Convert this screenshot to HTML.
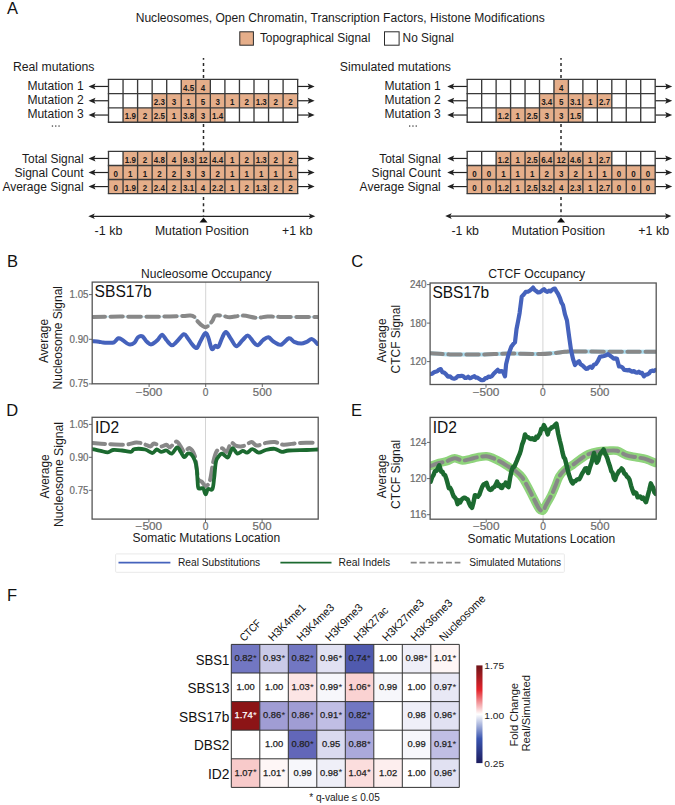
<!DOCTYPE html>
<html><head><meta charset="utf-8"><style>
html,body{margin:0;padding:0;background:#fff;}
svg{display:block;font-family:"Liberation Sans", sans-serif;}
</style></head><body>
<svg width="675" height="805" viewBox="0 0 675 805">
<rect width="675" height="805" fill="#fff"/>
<text x="7" y="13.9" font-size="16.5" fill="#111" text-anchor="start">A</text>
<text x="7" y="266.9" font-size="16.5" fill="#111" text-anchor="start">B</text>
<text x="351.3" y="266.9" font-size="16.5" fill="#111" text-anchor="start">C</text>
<text x="6.3" y="416" font-size="16.5" fill="#111" text-anchor="start">D</text>
<text x="351" y="416" font-size="16.5" fill="#111" text-anchor="start">E</text>
<text x="7" y="600.9" font-size="16.5" fill="#111" text-anchor="start">F</text>
<text x="135.7" y="22.2" font-size="12.5" fill="#1a1a1a" text-anchor="start" textLength="409" lengthAdjust="spacingAndGlyphs">Nucleosomes, Open Chromatin, Transcription Factors, Histone Modifications</text>
<rect x="239.8" y="31.8" width="13.6" height="13.4" fill="#E5AE8A" stroke="#2a2a2a" stroke-width="1"/>
<text x="259.9" y="41.6" font-size="12" fill="#1a1a1a" text-anchor="start" textLength="110.4" lengthAdjust="spacingAndGlyphs">Topographical Signal</text>
<rect x="384.5" y="31.8" width="14.6" height="13.4" fill="#fff" stroke="#2a2a2a" stroke-width="1"/>
<text x="402.6" y="41.6" font-size="12" fill="#1a1a1a" text-anchor="start" textLength="51.4" lengthAdjust="spacingAndGlyphs">No Signal</text>
<text x="12.9" y="71.1" font-size="12" fill="#1a1a1a" text-anchor="start" textLength="81.6" lengthAdjust="spacingAndGlyphs">Real mutations</text>
<text x="83.6" y="89.5" font-size="12" fill="#1a1a1a" text-anchor="end" textLength="56.2" lengthAdjust="spacingAndGlyphs">Mutation 1</text>
<text x="83.6" y="103.8" font-size="12" fill="#1a1a1a" text-anchor="end" textLength="56.2" lengthAdjust="spacingAndGlyphs">Mutation 2</text>
<text x="83.6" y="118.1" font-size="12" fill="#1a1a1a" text-anchor="end" textLength="56.2" lengthAdjust="spacingAndGlyphs">Mutation 3</text>
<line x1="108.5" y1="86.45" x2="92.5" y2="86.45" stroke="#222" stroke-width="1.2"/>
<polygon points="88.5,86.45 95.5,83.45 94.1,86.45 95.5,89.45" fill="#222"/>
<line x1="297.65" y1="86.45" x2="310.65" y2="86.45" stroke="#222" stroke-width="1.2"/>
<polygon points="314.65,86.45 307.65,83.45 309.05,86.45 307.65,89.45" fill="#222"/>
<line x1="108.5" y1="100.75" x2="92.5" y2="100.75" stroke="#222" stroke-width="1.2"/>
<polygon points="88.5,100.75 95.5,97.75 94.1,100.75 95.5,103.75" fill="#222"/>
<line x1="297.65" y1="100.75" x2="310.65" y2="100.75" stroke="#222" stroke-width="1.2"/>
<polygon points="314.65,100.75 307.65,97.75 309.05,100.75 307.65,103.75" fill="#222"/>
<line x1="108.5" y1="115.05" x2="92.5" y2="115.05" stroke="#222" stroke-width="1.2"/>
<polygon points="88.5,115.05 95.5,112.05 94.1,115.05 95.5,118.05" fill="#222"/>
<line x1="297.65" y1="115.05" x2="310.65" y2="115.05" stroke="#222" stroke-width="1.2"/>
<polygon points="314.65,115.05 307.65,112.05 309.05,115.05 307.65,118.05" fill="#222"/>
<line x1="203.5" y1="58" x2="203.5" y2="216" stroke="#2a2a2a" stroke-width="1.5" stroke-dasharray="3.0 3.1" stroke-dashoffset="1.2"/>
<rect x="108.5" y="79.3" width="14.55" height="14.3" fill="#fff" stroke="none" stroke-width="1"/>
<rect x="123.05" y="79.3" width="14.55" height="14.3" fill="#fff" stroke="none" stroke-width="1"/>
<rect x="137.6" y="79.3" width="14.55" height="14.3" fill="#fff" stroke="none" stroke-width="1"/>
<rect x="152.15" y="79.3" width="14.55" height="14.3" fill="#fff" stroke="none" stroke-width="1"/>
<rect x="166.7" y="79.3" width="14.55" height="14.3" fill="#fff" stroke="none" stroke-width="1"/>
<rect x="181.25" y="79.3" width="14.55" height="14.3" fill="#E5AE8A" stroke="none" stroke-width="1"/>
<rect x="195.8" y="79.3" width="14.55" height="14.3" fill="#E5AE8A" stroke="none" stroke-width="1"/>
<rect x="210.35" y="79.3" width="14.55" height="14.3" fill="#fff" stroke="none" stroke-width="1"/>
<rect x="224.9" y="79.3" width="14.55" height="14.3" fill="#fff" stroke="none" stroke-width="1"/>
<rect x="239.45" y="79.3" width="14.55" height="14.3" fill="#fff" stroke="none" stroke-width="1"/>
<rect x="254" y="79.3" width="14.55" height="14.3" fill="#fff" stroke="none" stroke-width="1"/>
<rect x="268.55" y="79.3" width="14.55" height="14.3" fill="#fff" stroke="none" stroke-width="1"/>
<rect x="283.1" y="79.3" width="14.55" height="14.3" fill="#fff" stroke="none" stroke-width="1"/>
<rect x="108.5" y="93.6" width="14.55" height="14.3" fill="#fff" stroke="none" stroke-width="1"/>
<rect x="123.05" y="93.6" width="14.55" height="14.3" fill="#fff" stroke="none" stroke-width="1"/>
<rect x="137.6" y="93.6" width="14.55" height="14.3" fill="#fff" stroke="none" stroke-width="1"/>
<rect x="152.15" y="93.6" width="14.55" height="14.3" fill="#E5AE8A" stroke="none" stroke-width="1"/>
<rect x="166.7" y="93.6" width="14.55" height="14.3" fill="#E5AE8A" stroke="none" stroke-width="1"/>
<rect x="181.25" y="93.6" width="14.55" height="14.3" fill="#E5AE8A" stroke="none" stroke-width="1"/>
<rect x="195.8" y="93.6" width="14.55" height="14.3" fill="#E5AE8A" stroke="none" stroke-width="1"/>
<rect x="210.35" y="93.6" width="14.55" height="14.3" fill="#E5AE8A" stroke="none" stroke-width="1"/>
<rect x="224.9" y="93.6" width="14.55" height="14.3" fill="#E5AE8A" stroke="none" stroke-width="1"/>
<rect x="239.45" y="93.6" width="14.55" height="14.3" fill="#E5AE8A" stroke="none" stroke-width="1"/>
<rect x="254" y="93.6" width="14.55" height="14.3" fill="#E5AE8A" stroke="none" stroke-width="1"/>
<rect x="268.55" y="93.6" width="14.55" height="14.3" fill="#E5AE8A" stroke="none" stroke-width="1"/>
<rect x="283.1" y="93.6" width="14.55" height="14.3" fill="#E5AE8A" stroke="none" stroke-width="1"/>
<rect x="108.5" y="107.9" width="14.55" height="14.3" fill="#fff" stroke="none" stroke-width="1"/>
<rect x="123.05" y="107.9" width="14.55" height="14.3" fill="#E5AE8A" stroke="none" stroke-width="1"/>
<rect x="137.6" y="107.9" width="14.55" height="14.3" fill="#E5AE8A" stroke="none" stroke-width="1"/>
<rect x="152.15" y="107.9" width="14.55" height="14.3" fill="#E5AE8A" stroke="none" stroke-width="1"/>
<rect x="166.7" y="107.9" width="14.55" height="14.3" fill="#E5AE8A" stroke="none" stroke-width="1"/>
<rect x="181.25" y="107.9" width="14.55" height="14.3" fill="#E5AE8A" stroke="none" stroke-width="1"/>
<rect x="195.8" y="107.9" width="14.55" height="14.3" fill="#E5AE8A" stroke="none" stroke-width="1"/>
<rect x="210.35" y="107.9" width="14.55" height="14.3" fill="#E5AE8A" stroke="none" stroke-width="1"/>
<rect x="224.9" y="107.9" width="14.55" height="14.3" fill="#fff" stroke="none" stroke-width="1"/>
<rect x="239.45" y="107.9" width="14.55" height="14.3" fill="#fff" stroke="none" stroke-width="1"/>
<rect x="254" y="107.9" width="14.55" height="14.3" fill="#fff" stroke="none" stroke-width="1"/>
<rect x="268.55" y="107.9" width="14.55" height="14.3" fill="#fff" stroke="none" stroke-width="1"/>
<rect x="283.1" y="107.9" width="14.55" height="14.3" fill="#fff" stroke="none" stroke-width="1"/>
<line x1="107.8" y1="79.3" x2="298.35" y2="79.3" stroke="#3a3a3a" stroke-width="1.35"/>
<line x1="107.8" y1="93.6" x2="298.35" y2="93.6" stroke="#3a3a3a" stroke-width="1.35"/>
<line x1="107.8" y1="107.9" x2="298.35" y2="107.9" stroke="#3a3a3a" stroke-width="1.35"/>
<line x1="107.8" y1="122.2" x2="298.35" y2="122.2" stroke="#3a3a3a" stroke-width="1.35"/>
<line x1="108.5" y1="79.3" x2="108.5" y2="122.2" stroke="#3a3a3a" stroke-width="1.35"/>
<line x1="123.05" y1="79.3" x2="123.05" y2="122.2" stroke="#3a3a3a" stroke-width="1.35"/>
<line x1="137.6" y1="79.3" x2="137.6" y2="122.2" stroke="#3a3a3a" stroke-width="1.35"/>
<line x1="152.15" y1="79.3" x2="152.15" y2="122.2" stroke="#3a3a3a" stroke-width="1.35"/>
<line x1="166.7" y1="79.3" x2="166.7" y2="122.2" stroke="#3a3a3a" stroke-width="1.35"/>
<line x1="181.25" y1="79.3" x2="181.25" y2="122.2" stroke="#3a3a3a" stroke-width="1.35"/>
<line x1="195.8" y1="79.3" x2="195.8" y2="122.2" stroke="#3a3a3a" stroke-width="1.35"/>
<line x1="210.35" y1="79.3" x2="210.35" y2="122.2" stroke="#3a3a3a" stroke-width="1.35"/>
<line x1="224.9" y1="79.3" x2="224.9" y2="122.2" stroke="#3a3a3a" stroke-width="1.35"/>
<line x1="239.45" y1="79.3" x2="239.45" y2="122.2" stroke="#3a3a3a" stroke-width="1.35"/>
<line x1="254" y1="79.3" x2="254" y2="122.2" stroke="#3a3a3a" stroke-width="1.35"/>
<line x1="268.55" y1="79.3" x2="268.55" y2="122.2" stroke="#3a3a3a" stroke-width="1.35"/>
<line x1="283.1" y1="79.3" x2="283.1" y2="122.2" stroke="#3a3a3a" stroke-width="1.35"/>
<line x1="297.65" y1="79.3" x2="297.65" y2="122.2" stroke="#3a3a3a" stroke-width="1.35"/>
<text x="188.53" y="90.65" font-size="8.8" fill="#1a1a1a" text-anchor="middle" font-weight="bold" textLength="11.12" lengthAdjust="spacingAndGlyphs">4.5</text>
<text x="203.08" y="90.65" font-size="8.8" fill="#1a1a1a" text-anchor="middle" font-weight="bold" textLength="4.45" lengthAdjust="spacingAndGlyphs">4</text>
<text x="159.43" y="104.95" font-size="8.8" fill="#1a1a1a" text-anchor="middle" font-weight="bold" textLength="11.12" lengthAdjust="spacingAndGlyphs">2.3</text>
<text x="173.97" y="104.95" font-size="8.8" fill="#1a1a1a" text-anchor="middle" font-weight="bold" textLength="4.45" lengthAdjust="spacingAndGlyphs">3</text>
<text x="188.53" y="104.95" font-size="8.8" fill="#1a1a1a" text-anchor="middle" font-weight="bold" textLength="4.45" lengthAdjust="spacingAndGlyphs">1</text>
<text x="203.08" y="104.95" font-size="8.8" fill="#1a1a1a" text-anchor="middle" font-weight="bold" textLength="4.45" lengthAdjust="spacingAndGlyphs">5</text>
<text x="217.63" y="104.95" font-size="8.8" fill="#1a1a1a" text-anchor="middle" font-weight="bold" textLength="4.45" lengthAdjust="spacingAndGlyphs">3</text>
<text x="232.18" y="104.95" font-size="8.8" fill="#1a1a1a" text-anchor="middle" font-weight="bold" textLength="4.45" lengthAdjust="spacingAndGlyphs">1</text>
<text x="246.73" y="104.95" font-size="8.8" fill="#1a1a1a" text-anchor="middle" font-weight="bold" textLength="4.45" lengthAdjust="spacingAndGlyphs">2</text>
<text x="261.27" y="104.95" font-size="8.8" fill="#1a1a1a" text-anchor="middle" font-weight="bold" textLength="11.12" lengthAdjust="spacingAndGlyphs">1.3</text>
<text x="275.82" y="104.95" font-size="8.8" fill="#1a1a1a" text-anchor="middle" font-weight="bold" textLength="4.45" lengthAdjust="spacingAndGlyphs">2</text>
<text x="290.38" y="104.95" font-size="8.8" fill="#1a1a1a" text-anchor="middle" font-weight="bold" textLength="4.45" lengthAdjust="spacingAndGlyphs">2</text>
<text x="130.32" y="119.25" font-size="8.8" fill="#1a1a1a" text-anchor="middle" font-weight="bold" textLength="11.12" lengthAdjust="spacingAndGlyphs">1.9</text>
<text x="144.88" y="119.25" font-size="8.8" fill="#1a1a1a" text-anchor="middle" font-weight="bold" textLength="4.45" lengthAdjust="spacingAndGlyphs">2</text>
<text x="159.43" y="119.25" font-size="8.8" fill="#1a1a1a" text-anchor="middle" font-weight="bold" textLength="11.12" lengthAdjust="spacingAndGlyphs">2.5</text>
<text x="173.97" y="119.25" font-size="8.8" fill="#1a1a1a" text-anchor="middle" font-weight="bold" textLength="4.45" lengthAdjust="spacingAndGlyphs">1</text>
<text x="188.53" y="119.25" font-size="8.8" fill="#1a1a1a" text-anchor="middle" font-weight="bold" textLength="11.12" lengthAdjust="spacingAndGlyphs">3.8</text>
<text x="203.08" y="119.25" font-size="8.8" fill="#1a1a1a" text-anchor="middle" font-weight="bold" textLength="4.45" lengthAdjust="spacingAndGlyphs">3</text>
<text x="217.63" y="119.25" font-size="8.8" fill="#1a1a1a" text-anchor="middle" font-weight="bold" textLength="11.12" lengthAdjust="spacingAndGlyphs">1.4</text>
<rect x="51.8" y="125.4" width="1.3" height="1.3" fill="#444" stroke="none" stroke-width="1"/>
<rect x="55.1" y="125.4" width="1.3" height="1.3" fill="#444" stroke="none" stroke-width="1"/>
<rect x="58.4" y="125.4" width="1.3" height="1.3" fill="#444" stroke="none" stroke-width="1"/>
<text x="83.6" y="162.8" font-size="12" fill="#1a1a1a" text-anchor="end" textLength="61.5" lengthAdjust="spacingAndGlyphs">Total Signal</text>
<text x="83.6" y="176.87" font-size="12" fill="#1a1a1a" text-anchor="end" textLength="69.2" lengthAdjust="spacingAndGlyphs">Signal Count</text>
<text x="83.6" y="190.94" font-size="12" fill="#1a1a1a" text-anchor="end" textLength="81.2" lengthAdjust="spacingAndGlyphs">Average Signal</text>
<line x1="108.5" y1="158.44" x2="92.5" y2="158.44" stroke="#222" stroke-width="1.2"/>
<polygon points="88.5,158.44 95.5,155.44 94.1,158.44 95.5,161.44" fill="#222"/>
<line x1="297.65" y1="158.44" x2="310.65" y2="158.44" stroke="#222" stroke-width="1.2"/>
<polygon points="314.65,158.44 307.65,155.44 309.05,158.44 307.65,161.44" fill="#222"/>
<line x1="108.5" y1="172.5" x2="92.5" y2="172.5" stroke="#222" stroke-width="1.2"/>
<polygon points="88.5,172.5 95.5,169.5 94.1,172.5 95.5,175.5" fill="#222"/>
<line x1="297.65" y1="172.5" x2="310.65" y2="172.5" stroke="#222" stroke-width="1.2"/>
<polygon points="314.65,172.5 307.65,169.5 309.05,172.5 307.65,175.5" fill="#222"/>
<line x1="108.5" y1="186.57" x2="92.5" y2="186.57" stroke="#222" stroke-width="1.2"/>
<polygon points="88.5,186.57 95.5,183.57 94.1,186.57 95.5,189.57" fill="#222"/>
<line x1="297.65" y1="186.57" x2="310.65" y2="186.57" stroke="#222" stroke-width="1.2"/>
<polygon points="314.65,186.57 307.65,183.57 309.05,186.57 307.65,189.57" fill="#222"/>
<rect x="108.5" y="151.4" width="14.55" height="14.07" fill="#fff" stroke="none" stroke-width="1"/>
<rect x="123.05" y="151.4" width="14.55" height="14.07" fill="#E5AE8A" stroke="none" stroke-width="1"/>
<rect x="137.6" y="151.4" width="14.55" height="14.07" fill="#E5AE8A" stroke="none" stroke-width="1"/>
<rect x="152.15" y="151.4" width="14.55" height="14.07" fill="#E5AE8A" stroke="none" stroke-width="1"/>
<rect x="166.7" y="151.4" width="14.55" height="14.07" fill="#E5AE8A" stroke="none" stroke-width="1"/>
<rect x="181.25" y="151.4" width="14.55" height="14.07" fill="#E5AE8A" stroke="none" stroke-width="1"/>
<rect x="195.8" y="151.4" width="14.55" height="14.07" fill="#E5AE8A" stroke="none" stroke-width="1"/>
<rect x="210.35" y="151.4" width="14.55" height="14.07" fill="#E5AE8A" stroke="none" stroke-width="1"/>
<rect x="224.9" y="151.4" width="14.55" height="14.07" fill="#E5AE8A" stroke="none" stroke-width="1"/>
<rect x="239.45" y="151.4" width="14.55" height="14.07" fill="#E5AE8A" stroke="none" stroke-width="1"/>
<rect x="254" y="151.4" width="14.55" height="14.07" fill="#E5AE8A" stroke="none" stroke-width="1"/>
<rect x="268.55" y="151.4" width="14.55" height="14.07" fill="#E5AE8A" stroke="none" stroke-width="1"/>
<rect x="283.1" y="151.4" width="14.55" height="14.07" fill="#E5AE8A" stroke="none" stroke-width="1"/>
<rect x="108.5" y="165.47" width="14.55" height="14.07" fill="#E5AE8A" stroke="none" stroke-width="1"/>
<rect x="123.05" y="165.47" width="14.55" height="14.07" fill="#E5AE8A" stroke="none" stroke-width="1"/>
<rect x="137.6" y="165.47" width="14.55" height="14.07" fill="#E5AE8A" stroke="none" stroke-width="1"/>
<rect x="152.15" y="165.47" width="14.55" height="14.07" fill="#E5AE8A" stroke="none" stroke-width="1"/>
<rect x="166.7" y="165.47" width="14.55" height="14.07" fill="#E5AE8A" stroke="none" stroke-width="1"/>
<rect x="181.25" y="165.47" width="14.55" height="14.07" fill="#E5AE8A" stroke="none" stroke-width="1"/>
<rect x="195.8" y="165.47" width="14.55" height="14.07" fill="#E5AE8A" stroke="none" stroke-width="1"/>
<rect x="210.35" y="165.47" width="14.55" height="14.07" fill="#E5AE8A" stroke="none" stroke-width="1"/>
<rect x="224.9" y="165.47" width="14.55" height="14.07" fill="#E5AE8A" stroke="none" stroke-width="1"/>
<rect x="239.45" y="165.47" width="14.55" height="14.07" fill="#E5AE8A" stroke="none" stroke-width="1"/>
<rect x="254" y="165.47" width="14.55" height="14.07" fill="#E5AE8A" stroke="none" stroke-width="1"/>
<rect x="268.55" y="165.47" width="14.55" height="14.07" fill="#E5AE8A" stroke="none" stroke-width="1"/>
<rect x="283.1" y="165.47" width="14.55" height="14.07" fill="#E5AE8A" stroke="none" stroke-width="1"/>
<rect x="108.5" y="179.54" width="14.55" height="14.07" fill="#E5AE8A" stroke="none" stroke-width="1"/>
<rect x="123.05" y="179.54" width="14.55" height="14.07" fill="#E5AE8A" stroke="none" stroke-width="1"/>
<rect x="137.6" y="179.54" width="14.55" height="14.07" fill="#E5AE8A" stroke="none" stroke-width="1"/>
<rect x="152.15" y="179.54" width="14.55" height="14.07" fill="#E5AE8A" stroke="none" stroke-width="1"/>
<rect x="166.7" y="179.54" width="14.55" height="14.07" fill="#E5AE8A" stroke="none" stroke-width="1"/>
<rect x="181.25" y="179.54" width="14.55" height="14.07" fill="#E5AE8A" stroke="none" stroke-width="1"/>
<rect x="195.8" y="179.54" width="14.55" height="14.07" fill="#E5AE8A" stroke="none" stroke-width="1"/>
<rect x="210.35" y="179.54" width="14.55" height="14.07" fill="#E5AE8A" stroke="none" stroke-width="1"/>
<rect x="224.9" y="179.54" width="14.55" height="14.07" fill="#E5AE8A" stroke="none" stroke-width="1"/>
<rect x="239.45" y="179.54" width="14.55" height="14.07" fill="#E5AE8A" stroke="none" stroke-width="1"/>
<rect x="254" y="179.54" width="14.55" height="14.07" fill="#E5AE8A" stroke="none" stroke-width="1"/>
<rect x="268.55" y="179.54" width="14.55" height="14.07" fill="#E5AE8A" stroke="none" stroke-width="1"/>
<rect x="283.1" y="179.54" width="14.55" height="14.07" fill="#E5AE8A" stroke="none" stroke-width="1"/>
<line x1="107.8" y1="151.4" x2="298.35" y2="151.4" stroke="#3a3a3a" stroke-width="1.35"/>
<line x1="107.8" y1="165.47" x2="298.35" y2="165.47" stroke="#3a3a3a" stroke-width="1.35"/>
<line x1="107.8" y1="179.54" x2="298.35" y2="179.54" stroke="#3a3a3a" stroke-width="1.35"/>
<line x1="107.8" y1="193.61" x2="298.35" y2="193.61" stroke="#3a3a3a" stroke-width="1.35"/>
<line x1="108.5" y1="151.4" x2="108.5" y2="193.61" stroke="#3a3a3a" stroke-width="1.35"/>
<line x1="123.05" y1="151.4" x2="123.05" y2="193.61" stroke="#3a3a3a" stroke-width="1.35"/>
<line x1="137.6" y1="151.4" x2="137.6" y2="193.61" stroke="#3a3a3a" stroke-width="1.35"/>
<line x1="152.15" y1="151.4" x2="152.15" y2="193.61" stroke="#3a3a3a" stroke-width="1.35"/>
<line x1="166.7" y1="151.4" x2="166.7" y2="193.61" stroke="#3a3a3a" stroke-width="1.35"/>
<line x1="181.25" y1="151.4" x2="181.25" y2="193.61" stroke="#3a3a3a" stroke-width="1.35"/>
<line x1="195.8" y1="151.4" x2="195.8" y2="193.61" stroke="#3a3a3a" stroke-width="1.35"/>
<line x1="210.35" y1="151.4" x2="210.35" y2="193.61" stroke="#3a3a3a" stroke-width="1.35"/>
<line x1="224.9" y1="151.4" x2="224.9" y2="193.61" stroke="#3a3a3a" stroke-width="1.35"/>
<line x1="239.45" y1="151.4" x2="239.45" y2="193.61" stroke="#3a3a3a" stroke-width="1.35"/>
<line x1="254" y1="151.4" x2="254" y2="193.61" stroke="#3a3a3a" stroke-width="1.35"/>
<line x1="268.55" y1="151.4" x2="268.55" y2="193.61" stroke="#3a3a3a" stroke-width="1.35"/>
<line x1="283.1" y1="151.4" x2="283.1" y2="193.61" stroke="#3a3a3a" stroke-width="1.35"/>
<line x1="297.65" y1="151.4" x2="297.65" y2="193.61" stroke="#3a3a3a" stroke-width="1.35"/>
<text x="130.32" y="162.75" font-size="8.8" fill="#1a1a1a" text-anchor="middle" font-weight="bold" textLength="11.12" lengthAdjust="spacingAndGlyphs">1.9</text>
<text x="144.88" y="162.75" font-size="8.8" fill="#1a1a1a" text-anchor="middle" font-weight="bold" textLength="4.45" lengthAdjust="spacingAndGlyphs">2</text>
<text x="159.43" y="162.75" font-size="8.8" fill="#1a1a1a" text-anchor="middle" font-weight="bold" textLength="11.12" lengthAdjust="spacingAndGlyphs">4.8</text>
<text x="173.97" y="162.75" font-size="8.8" fill="#1a1a1a" text-anchor="middle" font-weight="bold" textLength="4.45" lengthAdjust="spacingAndGlyphs">4</text>
<text x="188.53" y="162.75" font-size="8.8" fill="#1a1a1a" text-anchor="middle" font-weight="bold" textLength="11.12" lengthAdjust="spacingAndGlyphs">9.3</text>
<text x="203.08" y="162.75" font-size="8.8" fill="#1a1a1a" text-anchor="middle" font-weight="bold" textLength="8.9" lengthAdjust="spacingAndGlyphs">12</text>
<text x="217.63" y="162.75" font-size="8.8" fill="#1a1a1a" text-anchor="middle" font-weight="bold" textLength="11.12" lengthAdjust="spacingAndGlyphs">4.4</text>
<text x="232.18" y="162.75" font-size="8.8" fill="#1a1a1a" text-anchor="middle" font-weight="bold" textLength="4.45" lengthAdjust="spacingAndGlyphs">1</text>
<text x="246.73" y="162.75" font-size="8.8" fill="#1a1a1a" text-anchor="middle" font-weight="bold" textLength="4.45" lengthAdjust="spacingAndGlyphs">2</text>
<text x="261.27" y="162.75" font-size="8.8" fill="#1a1a1a" text-anchor="middle" font-weight="bold" textLength="11.12" lengthAdjust="spacingAndGlyphs">1.3</text>
<text x="275.82" y="162.75" font-size="8.8" fill="#1a1a1a" text-anchor="middle" font-weight="bold" textLength="4.45" lengthAdjust="spacingAndGlyphs">2</text>
<text x="290.38" y="162.75" font-size="8.8" fill="#1a1a1a" text-anchor="middle" font-weight="bold" textLength="4.45" lengthAdjust="spacingAndGlyphs">2</text>
<text x="115.78" y="176.82" font-size="8.8" fill="#1a1a1a" text-anchor="middle" font-weight="bold" textLength="4.45" lengthAdjust="spacingAndGlyphs">0</text>
<text x="130.32" y="176.82" font-size="8.8" fill="#1a1a1a" text-anchor="middle" font-weight="bold" textLength="4.45" lengthAdjust="spacingAndGlyphs">1</text>
<text x="144.88" y="176.82" font-size="8.8" fill="#1a1a1a" text-anchor="middle" font-weight="bold" textLength="4.45" lengthAdjust="spacingAndGlyphs">1</text>
<text x="159.43" y="176.82" font-size="8.8" fill="#1a1a1a" text-anchor="middle" font-weight="bold" textLength="4.45" lengthAdjust="spacingAndGlyphs">2</text>
<text x="173.97" y="176.82" font-size="8.8" fill="#1a1a1a" text-anchor="middle" font-weight="bold" textLength="4.45" lengthAdjust="spacingAndGlyphs">2</text>
<text x="188.53" y="176.82" font-size="8.8" fill="#1a1a1a" text-anchor="middle" font-weight="bold" textLength="4.45" lengthAdjust="spacingAndGlyphs">3</text>
<text x="203.08" y="176.82" font-size="8.8" fill="#1a1a1a" text-anchor="middle" font-weight="bold" textLength="4.45" lengthAdjust="spacingAndGlyphs">3</text>
<text x="217.63" y="176.82" font-size="8.8" fill="#1a1a1a" text-anchor="middle" font-weight="bold" textLength="4.45" lengthAdjust="spacingAndGlyphs">2</text>
<text x="232.18" y="176.82" font-size="8.8" fill="#1a1a1a" text-anchor="middle" font-weight="bold" textLength="4.45" lengthAdjust="spacingAndGlyphs">1</text>
<text x="246.73" y="176.82" font-size="8.8" fill="#1a1a1a" text-anchor="middle" font-weight="bold" textLength="4.45" lengthAdjust="spacingAndGlyphs">1</text>
<text x="261.27" y="176.82" font-size="8.8" fill="#1a1a1a" text-anchor="middle" font-weight="bold" textLength="4.45" lengthAdjust="spacingAndGlyphs">1</text>
<text x="275.82" y="176.82" font-size="8.8" fill="#1a1a1a" text-anchor="middle" font-weight="bold" textLength="4.45" lengthAdjust="spacingAndGlyphs">1</text>
<text x="290.38" y="176.82" font-size="8.8" fill="#1a1a1a" text-anchor="middle" font-weight="bold" textLength="4.45" lengthAdjust="spacingAndGlyphs">1</text>
<text x="115.78" y="190.89" font-size="8.8" fill="#1a1a1a" text-anchor="middle" font-weight="bold" textLength="4.45" lengthAdjust="spacingAndGlyphs">0</text>
<text x="130.32" y="190.89" font-size="8.8" fill="#1a1a1a" text-anchor="middle" font-weight="bold" textLength="11.12" lengthAdjust="spacingAndGlyphs">1.9</text>
<text x="144.88" y="190.89" font-size="8.8" fill="#1a1a1a" text-anchor="middle" font-weight="bold" textLength="4.45" lengthAdjust="spacingAndGlyphs">2</text>
<text x="159.43" y="190.89" font-size="8.8" fill="#1a1a1a" text-anchor="middle" font-weight="bold" textLength="11.12" lengthAdjust="spacingAndGlyphs">2.4</text>
<text x="173.97" y="190.89" font-size="8.8" fill="#1a1a1a" text-anchor="middle" font-weight="bold" textLength="4.45" lengthAdjust="spacingAndGlyphs">2</text>
<text x="188.53" y="190.89" font-size="8.8" fill="#1a1a1a" text-anchor="middle" font-weight="bold" textLength="11.12" lengthAdjust="spacingAndGlyphs">3.1</text>
<text x="203.08" y="190.89" font-size="8.8" fill="#1a1a1a" text-anchor="middle" font-weight="bold" textLength="4.45" lengthAdjust="spacingAndGlyphs">4</text>
<text x="217.63" y="190.89" font-size="8.8" fill="#1a1a1a" text-anchor="middle" font-weight="bold" textLength="11.12" lengthAdjust="spacingAndGlyphs">2.2</text>
<text x="232.18" y="190.89" font-size="8.8" fill="#1a1a1a" text-anchor="middle" font-weight="bold" textLength="4.45" lengthAdjust="spacingAndGlyphs">1</text>
<text x="246.73" y="190.89" font-size="8.8" fill="#1a1a1a" text-anchor="middle" font-weight="bold" textLength="4.45" lengthAdjust="spacingAndGlyphs">2</text>
<text x="261.27" y="190.89" font-size="8.8" fill="#1a1a1a" text-anchor="middle" font-weight="bold" textLength="11.12" lengthAdjust="spacingAndGlyphs">1.3</text>
<text x="275.82" y="190.89" font-size="8.8" fill="#1a1a1a" text-anchor="middle" font-weight="bold" textLength="4.45" lengthAdjust="spacingAndGlyphs">2</text>
<text x="290.38" y="190.89" font-size="8.8" fill="#1a1a1a" text-anchor="middle" font-weight="bold" textLength="4.45" lengthAdjust="spacingAndGlyphs">2</text>
<line x1="92.3" y1="216.3" x2="311.3" y2="216.3" stroke="#222" stroke-width="1.2"/>
<polygon points="88.3,216.3 94.8,213.5 93.3,216.3 94.8,219.1" fill="#222"/>
<polygon points="315.3,216.3 308.8,213.5 310.3,216.3 308.8,219.1" fill="#222"/>
<polygon points="199.5,222.6 207.5,222.6 203.5,217.6" fill="#111"/>
<text x="94.5" y="235" font-size="12" fill="#1a1a1a" text-anchor="start" textLength="27.9" lengthAdjust="spacingAndGlyphs">-1 kb</text>
<text x="154.9" y="235" font-size="12" fill="#1a1a1a" text-anchor="start" textLength="94" lengthAdjust="spacingAndGlyphs">Mutation Position</text>
<text x="282.1" y="235" font-size="12" fill="#1a1a1a" text-anchor="start" textLength="30.4" lengthAdjust="spacingAndGlyphs">+1 kb</text>
<text x="339.8" y="71.1" font-size="12" fill="#1a1a1a" text-anchor="start" textLength="111.2" lengthAdjust="spacingAndGlyphs">Simulated mutations</text>
<text x="440.8" y="89.5" font-size="12" fill="#1a1a1a" text-anchor="end" textLength="56.2" lengthAdjust="spacingAndGlyphs">Mutation 1</text>
<text x="440.8" y="103.8" font-size="12" fill="#1a1a1a" text-anchor="end" textLength="56.2" lengthAdjust="spacingAndGlyphs">Mutation 2</text>
<text x="440.8" y="118.1" font-size="12" fill="#1a1a1a" text-anchor="end" textLength="56.2" lengthAdjust="spacingAndGlyphs">Mutation 3</text>
<line x1="467.2" y1="86.45" x2="451.2" y2="86.45" stroke="#222" stroke-width="1.2"/>
<polygon points="447.2,86.45 454.2,83.45 452.8,86.45 454.2,89.45" fill="#222"/>
<line x1="655.18" y1="86.45" x2="668.18" y2="86.45" stroke="#222" stroke-width="1.2"/>
<polygon points="672.18,86.45 665.18,83.45 666.58,86.45 665.18,89.45" fill="#222"/>
<line x1="467.2" y1="100.75" x2="451.2" y2="100.75" stroke="#222" stroke-width="1.2"/>
<polygon points="447.2,100.75 454.2,97.75 452.8,100.75 454.2,103.75" fill="#222"/>
<line x1="655.18" y1="100.75" x2="668.18" y2="100.75" stroke="#222" stroke-width="1.2"/>
<polygon points="672.18,100.75 665.18,97.75 666.58,100.75 665.18,103.75" fill="#222"/>
<line x1="467.2" y1="115.05" x2="451.2" y2="115.05" stroke="#222" stroke-width="1.2"/>
<polygon points="447.2,115.05 454.2,112.05 452.8,115.05 454.2,118.05" fill="#222"/>
<line x1="655.18" y1="115.05" x2="668.18" y2="115.05" stroke="#222" stroke-width="1.2"/>
<polygon points="672.18,115.05 665.18,112.05 666.58,115.05 665.18,118.05" fill="#222"/>
<line x1="561" y1="58" x2="561" y2="216" stroke="#2a2a2a" stroke-width="1.5" stroke-dasharray="3.0 3.1" stroke-dashoffset="1.2"/>
<rect x="467.2" y="79.3" width="14.46" height="14.3" fill="#fff" stroke="none" stroke-width="1"/>
<rect x="481.66" y="79.3" width="14.46" height="14.3" fill="#fff" stroke="none" stroke-width="1"/>
<rect x="496.12" y="79.3" width="14.46" height="14.3" fill="#fff" stroke="none" stroke-width="1"/>
<rect x="510.58" y="79.3" width="14.46" height="14.3" fill="#fff" stroke="none" stroke-width="1"/>
<rect x="525.04" y="79.3" width="14.46" height="14.3" fill="#fff" stroke="none" stroke-width="1"/>
<rect x="539.5" y="79.3" width="14.46" height="14.3" fill="#fff" stroke="none" stroke-width="1"/>
<rect x="553.96" y="79.3" width="14.46" height="14.3" fill="#E5AE8A" stroke="none" stroke-width="1"/>
<rect x="568.42" y="79.3" width="14.46" height="14.3" fill="#fff" stroke="none" stroke-width="1"/>
<rect x="582.88" y="79.3" width="14.46" height="14.3" fill="#fff" stroke="none" stroke-width="1"/>
<rect x="597.34" y="79.3" width="14.46" height="14.3" fill="#fff" stroke="none" stroke-width="1"/>
<rect x="611.8" y="79.3" width="14.46" height="14.3" fill="#fff" stroke="none" stroke-width="1"/>
<rect x="626.26" y="79.3" width="14.46" height="14.3" fill="#fff" stroke="none" stroke-width="1"/>
<rect x="640.72" y="79.3" width="14.46" height="14.3" fill="#fff" stroke="none" stroke-width="1"/>
<rect x="467.2" y="93.6" width="14.46" height="14.3" fill="#fff" stroke="none" stroke-width="1"/>
<rect x="481.66" y="93.6" width="14.46" height="14.3" fill="#fff" stroke="none" stroke-width="1"/>
<rect x="496.12" y="93.6" width="14.46" height="14.3" fill="#fff" stroke="none" stroke-width="1"/>
<rect x="510.58" y="93.6" width="14.46" height="14.3" fill="#fff" stroke="none" stroke-width="1"/>
<rect x="525.04" y="93.6" width="14.46" height="14.3" fill="#fff" stroke="none" stroke-width="1"/>
<rect x="539.5" y="93.6" width="14.46" height="14.3" fill="#E5AE8A" stroke="none" stroke-width="1"/>
<rect x="553.96" y="93.6" width="14.46" height="14.3" fill="#E5AE8A" stroke="none" stroke-width="1"/>
<rect x="568.42" y="93.6" width="14.46" height="14.3" fill="#E5AE8A" stroke="none" stroke-width="1"/>
<rect x="582.88" y="93.6" width="14.46" height="14.3" fill="#E5AE8A" stroke="none" stroke-width="1"/>
<rect x="597.34" y="93.6" width="14.46" height="14.3" fill="#E5AE8A" stroke="none" stroke-width="1"/>
<rect x="611.8" y="93.6" width="14.46" height="14.3" fill="#fff" stroke="none" stroke-width="1"/>
<rect x="626.26" y="93.6" width="14.46" height="14.3" fill="#fff" stroke="none" stroke-width="1"/>
<rect x="640.72" y="93.6" width="14.46" height="14.3" fill="#fff" stroke="none" stroke-width="1"/>
<rect x="467.2" y="107.9" width="14.46" height="14.3" fill="#fff" stroke="none" stroke-width="1"/>
<rect x="481.66" y="107.9" width="14.46" height="14.3" fill="#fff" stroke="none" stroke-width="1"/>
<rect x="496.12" y="107.9" width="14.46" height="14.3" fill="#E5AE8A" stroke="none" stroke-width="1"/>
<rect x="510.58" y="107.9" width="14.46" height="14.3" fill="#E5AE8A" stroke="none" stroke-width="1"/>
<rect x="525.04" y="107.9" width="14.46" height="14.3" fill="#E5AE8A" stroke="none" stroke-width="1"/>
<rect x="539.5" y="107.9" width="14.46" height="14.3" fill="#E5AE8A" stroke="none" stroke-width="1"/>
<rect x="553.96" y="107.9" width="14.46" height="14.3" fill="#E5AE8A" stroke="none" stroke-width="1"/>
<rect x="568.42" y="107.9" width="14.46" height="14.3" fill="#E5AE8A" stroke="none" stroke-width="1"/>
<rect x="582.88" y="107.9" width="14.46" height="14.3" fill="#fff" stroke="none" stroke-width="1"/>
<rect x="597.34" y="107.9" width="14.46" height="14.3" fill="#fff" stroke="none" stroke-width="1"/>
<rect x="611.8" y="107.9" width="14.46" height="14.3" fill="#fff" stroke="none" stroke-width="1"/>
<rect x="626.26" y="107.9" width="14.46" height="14.3" fill="#fff" stroke="none" stroke-width="1"/>
<rect x="640.72" y="107.9" width="14.46" height="14.3" fill="#fff" stroke="none" stroke-width="1"/>
<line x1="466.5" y1="79.3" x2="655.88" y2="79.3" stroke="#3a3a3a" stroke-width="1.35"/>
<line x1="466.5" y1="93.6" x2="655.88" y2="93.6" stroke="#3a3a3a" stroke-width="1.35"/>
<line x1="466.5" y1="107.9" x2="655.88" y2="107.9" stroke="#3a3a3a" stroke-width="1.35"/>
<line x1="466.5" y1="122.2" x2="655.88" y2="122.2" stroke="#3a3a3a" stroke-width="1.35"/>
<line x1="467.2" y1="79.3" x2="467.2" y2="122.2" stroke="#3a3a3a" stroke-width="1.35"/>
<line x1="481.66" y1="79.3" x2="481.66" y2="122.2" stroke="#3a3a3a" stroke-width="1.35"/>
<line x1="496.12" y1="79.3" x2="496.12" y2="122.2" stroke="#3a3a3a" stroke-width="1.35"/>
<line x1="510.58" y1="79.3" x2="510.58" y2="122.2" stroke="#3a3a3a" stroke-width="1.35"/>
<line x1="525.04" y1="79.3" x2="525.04" y2="122.2" stroke="#3a3a3a" stroke-width="1.35"/>
<line x1="539.5" y1="79.3" x2="539.5" y2="122.2" stroke="#3a3a3a" stroke-width="1.35"/>
<line x1="553.96" y1="79.3" x2="553.96" y2="122.2" stroke="#3a3a3a" stroke-width="1.35"/>
<line x1="568.42" y1="79.3" x2="568.42" y2="122.2" stroke="#3a3a3a" stroke-width="1.35"/>
<line x1="582.88" y1="79.3" x2="582.88" y2="122.2" stroke="#3a3a3a" stroke-width="1.35"/>
<line x1="597.34" y1="79.3" x2="597.34" y2="122.2" stroke="#3a3a3a" stroke-width="1.35"/>
<line x1="611.8" y1="79.3" x2="611.8" y2="122.2" stroke="#3a3a3a" stroke-width="1.35"/>
<line x1="626.26" y1="79.3" x2="626.26" y2="122.2" stroke="#3a3a3a" stroke-width="1.35"/>
<line x1="640.72" y1="79.3" x2="640.72" y2="122.2" stroke="#3a3a3a" stroke-width="1.35"/>
<line x1="655.18" y1="79.3" x2="655.18" y2="122.2" stroke="#3a3a3a" stroke-width="1.35"/>
<text x="561.19" y="90.65" font-size="8.8" fill="#1a1a1a" text-anchor="middle" font-weight="bold" textLength="4.45" lengthAdjust="spacingAndGlyphs">4</text>
<text x="546.73" y="104.95" font-size="8.8" fill="#1a1a1a" text-anchor="middle" font-weight="bold" textLength="11.12" lengthAdjust="spacingAndGlyphs">3.4</text>
<text x="561.19" y="104.95" font-size="8.8" fill="#1a1a1a" text-anchor="middle" font-weight="bold" textLength="4.45" lengthAdjust="spacingAndGlyphs">5</text>
<text x="575.65" y="104.95" font-size="8.8" fill="#1a1a1a" text-anchor="middle" font-weight="bold" textLength="11.12" lengthAdjust="spacingAndGlyphs">3.1</text>
<text x="590.11" y="104.95" font-size="8.8" fill="#1a1a1a" text-anchor="middle" font-weight="bold" textLength="4.45" lengthAdjust="spacingAndGlyphs">1</text>
<text x="604.57" y="104.95" font-size="8.8" fill="#1a1a1a" text-anchor="middle" font-weight="bold" textLength="11.12" lengthAdjust="spacingAndGlyphs">2.7</text>
<text x="503.35" y="119.25" font-size="8.8" fill="#1a1a1a" text-anchor="middle" font-weight="bold" textLength="11.12" lengthAdjust="spacingAndGlyphs">1.2</text>
<text x="517.81" y="119.25" font-size="8.8" fill="#1a1a1a" text-anchor="middle" font-weight="bold" textLength="4.45" lengthAdjust="spacingAndGlyphs">1</text>
<text x="532.27" y="119.25" font-size="8.8" fill="#1a1a1a" text-anchor="middle" font-weight="bold" textLength="11.12" lengthAdjust="spacingAndGlyphs">2.5</text>
<text x="546.73" y="119.25" font-size="8.8" fill="#1a1a1a" text-anchor="middle" font-weight="bold" textLength="4.45" lengthAdjust="spacingAndGlyphs">3</text>
<text x="561.19" y="119.25" font-size="8.8" fill="#1a1a1a" text-anchor="middle" font-weight="bold" textLength="4.45" lengthAdjust="spacingAndGlyphs">3</text>
<text x="575.65" y="119.25" font-size="8.8" fill="#1a1a1a" text-anchor="middle" font-weight="bold" textLength="11.12" lengthAdjust="spacingAndGlyphs">1.5</text>
<rect x="409" y="125.4" width="1.3" height="1.3" fill="#444" stroke="none" stroke-width="1"/>
<rect x="412.3" y="125.4" width="1.3" height="1.3" fill="#444" stroke="none" stroke-width="1"/>
<rect x="415.6" y="125.4" width="1.3" height="1.3" fill="#444" stroke="none" stroke-width="1"/>
<text x="440.8" y="162.8" font-size="12" fill="#1a1a1a" text-anchor="end" textLength="61.5" lengthAdjust="spacingAndGlyphs">Total Signal</text>
<text x="440.8" y="176.87" font-size="12" fill="#1a1a1a" text-anchor="end" textLength="69.2" lengthAdjust="spacingAndGlyphs">Signal Count</text>
<text x="440.8" y="190.94" font-size="12" fill="#1a1a1a" text-anchor="end" textLength="81.2" lengthAdjust="spacingAndGlyphs">Average Signal</text>
<line x1="467.2" y1="158.44" x2="451.2" y2="158.44" stroke="#222" stroke-width="1.2"/>
<polygon points="447.2,158.44 454.2,155.44 452.8,158.44 454.2,161.44" fill="#222"/>
<line x1="655.18" y1="158.44" x2="668.18" y2="158.44" stroke="#222" stroke-width="1.2"/>
<polygon points="672.18,158.44 665.18,155.44 666.58,158.44 665.18,161.44" fill="#222"/>
<line x1="467.2" y1="172.5" x2="451.2" y2="172.5" stroke="#222" stroke-width="1.2"/>
<polygon points="447.2,172.5 454.2,169.5 452.8,172.5 454.2,175.5" fill="#222"/>
<line x1="655.18" y1="172.5" x2="668.18" y2="172.5" stroke="#222" stroke-width="1.2"/>
<polygon points="672.18,172.5 665.18,169.5 666.58,172.5 665.18,175.5" fill="#222"/>
<line x1="467.2" y1="186.57" x2="451.2" y2="186.57" stroke="#222" stroke-width="1.2"/>
<polygon points="447.2,186.57 454.2,183.57 452.8,186.57 454.2,189.57" fill="#222"/>
<line x1="655.18" y1="186.57" x2="668.18" y2="186.57" stroke="#222" stroke-width="1.2"/>
<polygon points="672.18,186.57 665.18,183.57 666.58,186.57 665.18,189.57" fill="#222"/>
<rect x="467.2" y="151.4" width="14.46" height="14.07" fill="#fff" stroke="none" stroke-width="1"/>
<rect x="481.66" y="151.4" width="14.46" height="14.07" fill="#fff" stroke="none" stroke-width="1"/>
<rect x="496.12" y="151.4" width="14.46" height="14.07" fill="#E5AE8A" stroke="none" stroke-width="1"/>
<rect x="510.58" y="151.4" width="14.46" height="14.07" fill="#E5AE8A" stroke="none" stroke-width="1"/>
<rect x="525.04" y="151.4" width="14.46" height="14.07" fill="#E5AE8A" stroke="none" stroke-width="1"/>
<rect x="539.5" y="151.4" width="14.46" height="14.07" fill="#E5AE8A" stroke="none" stroke-width="1"/>
<rect x="553.96" y="151.4" width="14.46" height="14.07" fill="#E5AE8A" stroke="none" stroke-width="1"/>
<rect x="568.42" y="151.4" width="14.46" height="14.07" fill="#E5AE8A" stroke="none" stroke-width="1"/>
<rect x="582.88" y="151.4" width="14.46" height="14.07" fill="#E5AE8A" stroke="none" stroke-width="1"/>
<rect x="597.34" y="151.4" width="14.46" height="14.07" fill="#E5AE8A" stroke="none" stroke-width="1"/>
<rect x="611.8" y="151.4" width="14.46" height="14.07" fill="#fff" stroke="none" stroke-width="1"/>
<rect x="626.26" y="151.4" width="14.46" height="14.07" fill="#fff" stroke="none" stroke-width="1"/>
<rect x="640.72" y="151.4" width="14.46" height="14.07" fill="#fff" stroke="none" stroke-width="1"/>
<rect x="467.2" y="165.47" width="14.46" height="14.07" fill="#E5AE8A" stroke="none" stroke-width="1"/>
<rect x="481.66" y="165.47" width="14.46" height="14.07" fill="#E5AE8A" stroke="none" stroke-width="1"/>
<rect x="496.12" y="165.47" width="14.46" height="14.07" fill="#E5AE8A" stroke="none" stroke-width="1"/>
<rect x="510.58" y="165.47" width="14.46" height="14.07" fill="#E5AE8A" stroke="none" stroke-width="1"/>
<rect x="525.04" y="165.47" width="14.46" height="14.07" fill="#E5AE8A" stroke="none" stroke-width="1"/>
<rect x="539.5" y="165.47" width="14.46" height="14.07" fill="#E5AE8A" stroke="none" stroke-width="1"/>
<rect x="553.96" y="165.47" width="14.46" height="14.07" fill="#E5AE8A" stroke="none" stroke-width="1"/>
<rect x="568.42" y="165.47" width="14.46" height="14.07" fill="#E5AE8A" stroke="none" stroke-width="1"/>
<rect x="582.88" y="165.47" width="14.46" height="14.07" fill="#E5AE8A" stroke="none" stroke-width="1"/>
<rect x="597.34" y="165.47" width="14.46" height="14.07" fill="#E5AE8A" stroke="none" stroke-width="1"/>
<rect x="611.8" y="165.47" width="14.46" height="14.07" fill="#E5AE8A" stroke="none" stroke-width="1"/>
<rect x="626.26" y="165.47" width="14.46" height="14.07" fill="#E5AE8A" stroke="none" stroke-width="1"/>
<rect x="640.72" y="165.47" width="14.46" height="14.07" fill="#E5AE8A" stroke="none" stroke-width="1"/>
<rect x="467.2" y="179.54" width="14.46" height="14.07" fill="#E5AE8A" stroke="none" stroke-width="1"/>
<rect x="481.66" y="179.54" width="14.46" height="14.07" fill="#E5AE8A" stroke="none" stroke-width="1"/>
<rect x="496.12" y="179.54" width="14.46" height="14.07" fill="#E5AE8A" stroke="none" stroke-width="1"/>
<rect x="510.58" y="179.54" width="14.46" height="14.07" fill="#E5AE8A" stroke="none" stroke-width="1"/>
<rect x="525.04" y="179.54" width="14.46" height="14.07" fill="#E5AE8A" stroke="none" stroke-width="1"/>
<rect x="539.5" y="179.54" width="14.46" height="14.07" fill="#E5AE8A" stroke="none" stroke-width="1"/>
<rect x="553.96" y="179.54" width="14.46" height="14.07" fill="#E5AE8A" stroke="none" stroke-width="1"/>
<rect x="568.42" y="179.54" width="14.46" height="14.07" fill="#E5AE8A" stroke="none" stroke-width="1"/>
<rect x="582.88" y="179.54" width="14.46" height="14.07" fill="#E5AE8A" stroke="none" stroke-width="1"/>
<rect x="597.34" y="179.54" width="14.46" height="14.07" fill="#E5AE8A" stroke="none" stroke-width="1"/>
<rect x="611.8" y="179.54" width="14.46" height="14.07" fill="#E5AE8A" stroke="none" stroke-width="1"/>
<rect x="626.26" y="179.54" width="14.46" height="14.07" fill="#E5AE8A" stroke="none" stroke-width="1"/>
<rect x="640.72" y="179.54" width="14.46" height="14.07" fill="#E5AE8A" stroke="none" stroke-width="1"/>
<line x1="466.5" y1="151.4" x2="655.88" y2="151.4" stroke="#3a3a3a" stroke-width="1.35"/>
<line x1="466.5" y1="165.47" x2="655.88" y2="165.47" stroke="#3a3a3a" stroke-width="1.35"/>
<line x1="466.5" y1="179.54" x2="655.88" y2="179.54" stroke="#3a3a3a" stroke-width="1.35"/>
<line x1="466.5" y1="193.61" x2="655.88" y2="193.61" stroke="#3a3a3a" stroke-width="1.35"/>
<line x1="467.2" y1="151.4" x2="467.2" y2="193.61" stroke="#3a3a3a" stroke-width="1.35"/>
<line x1="481.66" y1="151.4" x2="481.66" y2="193.61" stroke="#3a3a3a" stroke-width="1.35"/>
<line x1="496.12" y1="151.4" x2="496.12" y2="193.61" stroke="#3a3a3a" stroke-width="1.35"/>
<line x1="510.58" y1="151.4" x2="510.58" y2="193.61" stroke="#3a3a3a" stroke-width="1.35"/>
<line x1="525.04" y1="151.4" x2="525.04" y2="193.61" stroke="#3a3a3a" stroke-width="1.35"/>
<line x1="539.5" y1="151.4" x2="539.5" y2="193.61" stroke="#3a3a3a" stroke-width="1.35"/>
<line x1="553.96" y1="151.4" x2="553.96" y2="193.61" stroke="#3a3a3a" stroke-width="1.35"/>
<line x1="568.42" y1="151.4" x2="568.42" y2="193.61" stroke="#3a3a3a" stroke-width="1.35"/>
<line x1="582.88" y1="151.4" x2="582.88" y2="193.61" stroke="#3a3a3a" stroke-width="1.35"/>
<line x1="597.34" y1="151.4" x2="597.34" y2="193.61" stroke="#3a3a3a" stroke-width="1.35"/>
<line x1="611.8" y1="151.4" x2="611.8" y2="193.61" stroke="#3a3a3a" stroke-width="1.35"/>
<line x1="626.26" y1="151.4" x2="626.26" y2="193.61" stroke="#3a3a3a" stroke-width="1.35"/>
<line x1="640.72" y1="151.4" x2="640.72" y2="193.61" stroke="#3a3a3a" stroke-width="1.35"/>
<line x1="655.18" y1="151.4" x2="655.18" y2="193.61" stroke="#3a3a3a" stroke-width="1.35"/>
<text x="503.35" y="162.75" font-size="8.8" fill="#1a1a1a" text-anchor="middle" font-weight="bold" textLength="11.12" lengthAdjust="spacingAndGlyphs">1.2</text>
<text x="517.81" y="162.75" font-size="8.8" fill="#1a1a1a" text-anchor="middle" font-weight="bold" textLength="4.45" lengthAdjust="spacingAndGlyphs">1</text>
<text x="532.27" y="162.75" font-size="8.8" fill="#1a1a1a" text-anchor="middle" font-weight="bold" textLength="11.12" lengthAdjust="spacingAndGlyphs">2.5</text>
<text x="546.73" y="162.75" font-size="8.8" fill="#1a1a1a" text-anchor="middle" font-weight="bold" textLength="11.12" lengthAdjust="spacingAndGlyphs">6.4</text>
<text x="561.19" y="162.75" font-size="8.8" fill="#1a1a1a" text-anchor="middle" font-weight="bold" textLength="8.9" lengthAdjust="spacingAndGlyphs">12</text>
<text x="575.65" y="162.75" font-size="8.8" fill="#1a1a1a" text-anchor="middle" font-weight="bold" textLength="11.12" lengthAdjust="spacingAndGlyphs">4.6</text>
<text x="590.11" y="162.75" font-size="8.8" fill="#1a1a1a" text-anchor="middle" font-weight="bold" textLength="4.45" lengthAdjust="spacingAndGlyphs">1</text>
<text x="604.57" y="162.75" font-size="8.8" fill="#1a1a1a" text-anchor="middle" font-weight="bold" textLength="11.12" lengthAdjust="spacingAndGlyphs">2.7</text>
<text x="474.43" y="176.82" font-size="8.8" fill="#1a1a1a" text-anchor="middle" font-weight="bold" textLength="4.45" lengthAdjust="spacingAndGlyphs">0</text>
<text x="488.89" y="176.82" font-size="8.8" fill="#1a1a1a" text-anchor="middle" font-weight="bold" textLength="4.45" lengthAdjust="spacingAndGlyphs">0</text>
<text x="503.35" y="176.82" font-size="8.8" fill="#1a1a1a" text-anchor="middle" font-weight="bold" textLength="4.45" lengthAdjust="spacingAndGlyphs">1</text>
<text x="517.81" y="176.82" font-size="8.8" fill="#1a1a1a" text-anchor="middle" font-weight="bold" textLength="4.45" lengthAdjust="spacingAndGlyphs">1</text>
<text x="532.27" y="176.82" font-size="8.8" fill="#1a1a1a" text-anchor="middle" font-weight="bold" textLength="4.45" lengthAdjust="spacingAndGlyphs">1</text>
<text x="546.73" y="176.82" font-size="8.8" fill="#1a1a1a" text-anchor="middle" font-weight="bold" textLength="4.45" lengthAdjust="spacingAndGlyphs">2</text>
<text x="561.19" y="176.82" font-size="8.8" fill="#1a1a1a" text-anchor="middle" font-weight="bold" textLength="4.45" lengthAdjust="spacingAndGlyphs">3</text>
<text x="575.65" y="176.82" font-size="8.8" fill="#1a1a1a" text-anchor="middle" font-weight="bold" textLength="4.45" lengthAdjust="spacingAndGlyphs">2</text>
<text x="590.11" y="176.82" font-size="8.8" fill="#1a1a1a" text-anchor="middle" font-weight="bold" textLength="4.45" lengthAdjust="spacingAndGlyphs">1</text>
<text x="604.57" y="176.82" font-size="8.8" fill="#1a1a1a" text-anchor="middle" font-weight="bold" textLength="4.45" lengthAdjust="spacingAndGlyphs">1</text>
<text x="619.03" y="176.82" font-size="8.8" fill="#1a1a1a" text-anchor="middle" font-weight="bold" textLength="4.45" lengthAdjust="spacingAndGlyphs">0</text>
<text x="633.49" y="176.82" font-size="8.8" fill="#1a1a1a" text-anchor="middle" font-weight="bold" textLength="4.45" lengthAdjust="spacingAndGlyphs">0</text>
<text x="647.95" y="176.82" font-size="8.8" fill="#1a1a1a" text-anchor="middle" font-weight="bold" textLength="4.45" lengthAdjust="spacingAndGlyphs">0</text>
<text x="474.43" y="190.89" font-size="8.8" fill="#1a1a1a" text-anchor="middle" font-weight="bold" textLength="4.45" lengthAdjust="spacingAndGlyphs">0</text>
<text x="488.89" y="190.89" font-size="8.8" fill="#1a1a1a" text-anchor="middle" font-weight="bold" textLength="4.45" lengthAdjust="spacingAndGlyphs">0</text>
<text x="503.35" y="190.89" font-size="8.8" fill="#1a1a1a" text-anchor="middle" font-weight="bold" textLength="11.12" lengthAdjust="spacingAndGlyphs">1.2</text>
<text x="517.81" y="190.89" font-size="8.8" fill="#1a1a1a" text-anchor="middle" font-weight="bold" textLength="4.45" lengthAdjust="spacingAndGlyphs">1</text>
<text x="532.27" y="190.89" font-size="8.8" fill="#1a1a1a" text-anchor="middle" font-weight="bold" textLength="11.12" lengthAdjust="spacingAndGlyphs">2.5</text>
<text x="546.73" y="190.89" font-size="8.8" fill="#1a1a1a" text-anchor="middle" font-weight="bold" textLength="11.12" lengthAdjust="spacingAndGlyphs">3.2</text>
<text x="561.19" y="190.89" font-size="8.8" fill="#1a1a1a" text-anchor="middle" font-weight="bold" textLength="4.45" lengthAdjust="spacingAndGlyphs">4</text>
<text x="575.65" y="190.89" font-size="8.8" fill="#1a1a1a" text-anchor="middle" font-weight="bold" textLength="11.12" lengthAdjust="spacingAndGlyphs">2.3</text>
<text x="590.11" y="190.89" font-size="8.8" fill="#1a1a1a" text-anchor="middle" font-weight="bold" textLength="4.45" lengthAdjust="spacingAndGlyphs">1</text>
<text x="604.57" y="190.89" font-size="8.8" fill="#1a1a1a" text-anchor="middle" font-weight="bold" textLength="11.12" lengthAdjust="spacingAndGlyphs">2.7</text>
<text x="619.03" y="190.89" font-size="8.8" fill="#1a1a1a" text-anchor="middle" font-weight="bold" textLength="4.45" lengthAdjust="spacingAndGlyphs">0</text>
<text x="633.49" y="190.89" font-size="8.8" fill="#1a1a1a" text-anchor="middle" font-weight="bold" textLength="4.45" lengthAdjust="spacingAndGlyphs">0</text>
<text x="647.95" y="190.89" font-size="8.8" fill="#1a1a1a" text-anchor="middle" font-weight="bold" textLength="4.45" lengthAdjust="spacingAndGlyphs">0</text>
<line x1="449.2" y1="216.1" x2="667.4" y2="216.1" stroke="#222" stroke-width="1.2"/>
<polygon points="445.2,216.1 451.7,213.3 450.2,216.1 451.7,218.9" fill="#222"/>
<polygon points="671.4,216.1 664.9,213.3 666.4,216.1 664.9,218.9" fill="#222"/>
<polygon points="557,222.4 565,222.4 561,217.4" fill="#111"/>
<text x="451.5" y="234.6" font-size="12" fill="#1a1a1a" text-anchor="start" textLength="27.5" lengthAdjust="spacingAndGlyphs">-1 kb</text>
<text x="511.8" y="234.6" font-size="12" fill="#1a1a1a" text-anchor="start" textLength="93.2" lengthAdjust="spacingAndGlyphs">Mutation Position</text>
<text x="638.3" y="234.6" font-size="12" fill="#1a1a1a" text-anchor="start" textLength="30.8" lengthAdjust="spacingAndGlyphs">+1 kb</text>
<line x1="205.7" y1="282.1" x2="205.7" y2="383.8" stroke="#cfcfcf" stroke-width="0.9"/>
<line x1="89" y1="294.6" x2="92.2" y2="294.6" stroke="#6b6b6b" stroke-width="1"/>
<text x="88.5" y="298.15" font-size="10" fill="#6b6b6b" text-anchor="end" textLength="18.9" lengthAdjust="spacingAndGlyphs" stroke="#6b6b6b" stroke-width="0.2">1.05</text>
<line x1="89" y1="339.3" x2="92.2" y2="339.3" stroke="#6b6b6b" stroke-width="1"/>
<text x="88.5" y="342.85" font-size="10" fill="#6b6b6b" text-anchor="end" textLength="18.9" lengthAdjust="spacingAndGlyphs" stroke="#6b6b6b" stroke-width="0.2">0.90</text>
<line x1="89" y1="383.9" x2="92.2" y2="383.9" stroke="#6b6b6b" stroke-width="1"/>
<text x="88.5" y="387.45" font-size="10" fill="#6b6b6b" text-anchor="end" textLength="18.9" lengthAdjust="spacingAndGlyphs" stroke="#6b6b6b" stroke-width="0.2">0.75</text>
<line x1="149.1" y1="383.8" x2="149.1" y2="387" stroke="#6b6b6b" stroke-width="1"/>
<text x="149.1" y="395.8" font-size="10.2" fill="#6b6b6b" text-anchor="middle" textLength="26.6" lengthAdjust="spacingAndGlyphs" stroke="#6b6b6b" stroke-width="0.2">−500</text>
<line x1="205.7" y1="383.8" x2="205.7" y2="387" stroke="#6b6b6b" stroke-width="1"/>
<text x="205.7" y="395.8" font-size="10.2" fill="#6b6b6b" text-anchor="middle" stroke="#6b6b6b" stroke-width="0.2">0</text>
<line x1="262.3" y1="383.8" x2="262.3" y2="387" stroke="#6b6b6b" stroke-width="1"/>
<text x="262.3" y="395.8" font-size="10.2" fill="#6b6b6b" text-anchor="middle" textLength="19" lengthAdjust="spacingAndGlyphs" stroke="#6b6b6b" stroke-width="0.2">500</text>
<text x="0" y="0" font-size="12" fill="#1a1a1a" text-anchor="middle" textLength="44.2" lengthAdjust="spacingAndGlyphs" transform="translate(48.2,341) rotate(-90)">Average</text>
<text x="0" y="0" font-size="12" fill="#1a1a1a" text-anchor="middle" textLength="103.4" lengthAdjust="spacingAndGlyphs" transform="translate(61.9,337.7) rotate(-90)">Nucleosome Signal</text>
<text x="94.6" y="297.3" font-size="16" fill="#111" text-anchor="start" textLength="57.2" lengthAdjust="spacingAndGlyphs">SBS17b</text>
<text x="141" y="278.2" font-size="12" fill="#1a1a1a" text-anchor="start" textLength="130.4" lengthAdjust="spacingAndGlyphs">Nucleosome Occupancy</text>
<clipPath id="cp1"><rect x="92.2" y="282.1" width="226.2" height="101.7"/></clipPath><g clip-path="url(#cp1)">
<path d="M92.6,316.9 C97.17,316.85 110.43,316.62 120,316.6 C129.57,316.58 141.67,316.83 150,316.8 C158.33,316.77 164.45,316.53 170,316.4 C175.55,316.27 179.9,316.13 183.3,316 C186.7,315.87 188.47,315.38 190.4,315.6 C192.33,315.82 193.7,316.35 194.9,317.3 C196.1,318.25 196.27,319.82 197.6,321.3 C198.93,322.78 201.5,325.23 202.9,326.2 C204.3,327.17 204.97,327.32 206,327.1 C207.03,326.88 207.98,326.02 209.1,324.9 C210.22,323.78 211.67,321.95 212.7,320.4 C213.73,318.85 213.53,316.33 215.3,315.6 C217.07,314.87 220.85,315.72 223.3,316 C225.75,316.28 226.77,317.37 230,317.3 C233.23,317.23 238.22,315.52 242.7,315.6 C247.18,315.68 252.75,317.67 256.9,317.8 C261.05,317.93 263.75,316.55 267.6,316.4 C271.45,316.25 271.68,316.82 280,316.9 C288.32,316.98 311.25,316.9 317.5,316.9" fill="none" stroke="#c9e8f3" stroke-width="1.6" stroke-linejoin="round" stroke-linecap="round"/>
<path d="M92.6,316.9 C97.17,316.85 110.43,316.62 120,316.6 C129.57,316.58 141.67,316.83 150,316.8 C158.33,316.77 164.45,316.53 170,316.4 C175.55,316.27 179.9,316.13 183.3,316 C186.7,315.87 188.47,315.38 190.4,315.6 C192.33,315.82 193.7,316.35 194.9,317.3 C196.1,318.25 196.27,319.82 197.6,321.3 C198.93,322.78 201.5,325.23 202.9,326.2 C204.3,327.17 204.97,327.32 206,327.1 C207.03,326.88 207.98,326.02 209.1,324.9 C210.22,323.78 211.67,321.95 212.7,320.4 C213.73,318.85 213.53,316.33 215.3,315.6 C217.07,314.87 220.85,315.72 223.3,316 C225.75,316.28 226.77,317.37 230,317.3 C233.23,317.23 238.22,315.52 242.7,315.6 C247.18,315.68 252.75,317.67 256.9,317.8 C261.05,317.93 263.75,316.55 267.6,316.4 C271.45,316.25 271.68,316.82 280,316.9 C288.32,316.98 311.25,316.9 317.5,316.9" fill="none" stroke="#888888" stroke-width="4.0" stroke-linejoin="round" stroke-linecap="round" stroke-dasharray="12.4 5.5" stroke-linecap="butt"/>
<path d="M92.7,341.2 C93.73,341.3 97.18,341.58 98.9,341.8 C100.62,342.02 101.52,342.35 103,342.5 C104.48,342.65 105.97,342.73 107.8,342.7 C109.63,342.67 112.23,343.05 114,342.3 C115.77,341.55 116.98,338.58 118.4,338.2 C119.82,337.82 120.72,338.97 122.5,340 C124.28,341.03 127.12,343.95 129.1,344.4 C131.08,344.85 132.92,343.88 134.4,342.7 C135.88,341.52 136.67,338.35 138,337.3 C139.33,336.25 140.92,335.65 142.4,336.4 C143.88,337.15 145.42,340.47 146.9,341.8 C148.38,343.13 149.52,344.7 151.3,344.4 C153.08,344.1 155.82,341.62 157.6,340 C159.38,338.38 160.53,334.7 162,334.7 C163.47,334.7 164.77,338.23 166.4,340 C168.03,341.77 170.02,345.08 171.8,345.3 C173.58,345.52 175.1,343.15 177.1,341.3 C179.1,339.45 182.02,334.72 183.8,334.2 C185.58,333.68 186.4,336.5 187.8,338.2 C189.2,339.9 190.72,342.77 192.2,344.4 C193.68,346.03 195.37,348.43 196.7,348 C198.03,347.57 198.8,344.25 200.2,341.8 C201.6,339.35 203.77,334.05 205.1,333.3 C206.43,332.55 207.08,334.7 208.2,337.3 C209.32,339.9 210.62,347.48 211.8,348.9 C212.98,350.32 214.2,346.17 215.3,345.8 C216.4,345.43 217.22,348.12 218.4,346.7 C219.58,345.28 221.13,339.75 222.4,337.3 C223.67,334.85 224.55,331.7 226,332 C227.45,332.3 229.37,336.73 231.1,339.1 C232.83,341.47 234.47,346.05 236.4,346.2 C238.33,346.35 240.77,341.77 242.7,340 C244.63,338.23 246.23,335.3 248,335.6 C249.77,335.9 251.67,340.18 253.3,341.8 C254.93,343.42 256.17,345.6 257.8,345.3 C259.43,345 261.33,341.33 263.1,340 C264.87,338.67 266.62,337 268.4,337.3 C270.18,337.6 271.72,340.55 273.8,341.8 C275.88,343.05 278.38,345.4 280.9,344.8 C283.42,344.2 286.68,338.7 288.9,338.2 C291.12,337.7 292.13,340.9 294.2,341.8 C296.27,342.7 299.22,343.6 301.3,343.6 C303.38,343.6 304.92,342.55 306.7,341.8 C308.48,341.05 310.2,338.73 312,339.1 C313.8,339.47 316.58,343.18 317.5,344" fill="none" stroke="#4562BC" stroke-width="4.0" stroke-linejoin="round" stroke-linecap="round"/>
</g>
<rect x="92.2" y="282.1" width="226.2" height="101.7" fill="none" stroke="#555555" stroke-width="1.3"/>
<line x1="542.9" y1="283" x2="542.9" y2="384.5" stroke="#cfcfcf" stroke-width="0.9"/>
<line x1="426.9" y1="284.6" x2="430.1" y2="284.6" stroke="#6b6b6b" stroke-width="1"/>
<text x="426.5" y="288.15" font-size="10" fill="#6b6b6b" text-anchor="end" textLength="16.4" lengthAdjust="spacingAndGlyphs" stroke="#6b6b6b" stroke-width="0.2">240</text>
<line x1="426.9" y1="323.1" x2="430.1" y2="323.1" stroke="#6b6b6b" stroke-width="1"/>
<text x="426.5" y="326.65" font-size="10" fill="#6b6b6b" text-anchor="end" textLength="16.4" lengthAdjust="spacingAndGlyphs" stroke="#6b6b6b" stroke-width="0.2">180</text>
<line x1="426.9" y1="361.6" x2="430.1" y2="361.6" stroke="#6b6b6b" stroke-width="1"/>
<text x="426.5" y="365.15" font-size="10" fill="#6b6b6b" text-anchor="end" textLength="16.4" lengthAdjust="spacingAndGlyphs" stroke="#6b6b6b" stroke-width="0.2">120</text>
<line x1="486" y1="384.5" x2="486" y2="387.7" stroke="#6b6b6b" stroke-width="1"/>
<text x="486" y="395.8" font-size="10.2" fill="#6b6b6b" text-anchor="middle" textLength="26.6" lengthAdjust="spacingAndGlyphs" stroke="#6b6b6b" stroke-width="0.2">−500</text>
<line x1="542.9" y1="384.5" x2="542.9" y2="387.7" stroke="#6b6b6b" stroke-width="1"/>
<text x="542.9" y="395.8" font-size="10.2" fill="#6b6b6b" text-anchor="middle" stroke="#6b6b6b" stroke-width="0.2">0</text>
<line x1="599.8" y1="384.5" x2="599.8" y2="387.7" stroke="#6b6b6b" stroke-width="1"/>
<text x="599.8" y="395.8" font-size="10.2" fill="#6b6b6b" text-anchor="middle" textLength="19" lengthAdjust="spacingAndGlyphs" stroke="#6b6b6b" stroke-width="0.2">500</text>
<text x="0" y="0" font-size="12" fill="#1a1a1a" text-anchor="middle" textLength="44.2" lengthAdjust="spacingAndGlyphs" transform="translate(386.1,340.5) rotate(-90)">Average</text>
<text x="0" y="0" font-size="12" fill="#1a1a1a" text-anchor="middle" textLength="68.5" lengthAdjust="spacingAndGlyphs" transform="translate(399.6,339.2) rotate(-90)">CTCF Signal</text>
<text x="432.4" y="297.8" font-size="16" fill="#111" text-anchor="start" textLength="56.8" lengthAdjust="spacingAndGlyphs">SBS17b</text>
<text x="488.3" y="277.8" font-size="12" fill="#1a1a1a" text-anchor="start" textLength="96.8" lengthAdjust="spacingAndGlyphs">CTCF Occupancy</text>
<clipPath id="cp2"><rect x="430.1" y="283" width="226.1" height="101.5"/></clipPath><g clip-path="url(#cp2)">
<path d="M430.6,353.2 C433.83,353.4 441.77,354.18 450,354.4 C458.23,354.62 470,354.63 480,354.5 C490,354.37 500,353.68 510,353.6 C520,353.52 532.5,354.1 540,354 C547.5,353.9 550.83,353.37 555,353 C559.17,352.63 560.83,352.03 565,351.8 C569.17,351.57 564.92,351.6 580,351.6 C595.08,351.6 642.92,351.77 655.5,351.8" fill="none" stroke="#A8DCEF" stroke-width="4.0" stroke-linejoin="round" stroke-linecap="round"/>
<path d="M430.6,353.2 C433.83,353.4 441.77,354.18 450,354.4 C458.23,354.62 470,354.63 480,354.5 C490,354.37 500,353.68 510,353.6 C520,353.52 532.5,354.1 540,354 C547.5,353.9 550.83,353.37 555,353 C559.17,352.63 560.83,352.03 565,351.8 C569.17,351.57 564.92,351.6 580,351.6 C595.08,351.6 642.92,351.77 655.5,351.8" fill="none" stroke="#888888" stroke-width="4.0" stroke-linejoin="round" stroke-linecap="round" stroke-dasharray="12.4 5.5" stroke-linecap="butt"/>
<polyline points="430.6,374.08 432.27,373.66 433.93,372.27 435.6,371.71 437.3,371.25 439,369.63 440.7,369.03 442.43,372.21 444.17,372.59 445.9,374.07 447.95,376.54 450,376.44 452.1,378.27 454.2,378.65 456.02,378.05 457.85,376.15 459.68,376.19 461.5,375.74 463.25,376.3 465,377.98 466.6,377.91 468.2,376.76 469.8,378.22 471.35,377.71 472.9,376.95 474.45,376.24 476,377.73 477.55,377.65 479.1,378.84 480.65,379.86 482.2,380.23 483.77,379.87 485.35,378.04 486.93,378.08 488.5,376.59 490.23,376.87 491.97,376.06 493.7,373.79 495.75,371.77 497.8,369.83 499.53,371.7 501.27,371.01 503,371.75 505,376.3 506.1,364.21 508.2,355.67 509.75,350.95 511.3,346.77 513.15,344.17 515,342.21 516.5,329.26 518.05,321.46 519.6,313.01 521.7,296.68 523.75,294.49 525.8,291.93 527.9,291.77 530,290.43 531.55,289.26 533.1,287.54 534.65,289.93 536.2,291.02 538.1,292.46 540,292.15 542,290.57 544,289.13 545.67,291.17 547.33,291.91 549,290.58 550.5,291.4 552,290.02 553.5,288.9 555,288.59 556.5,291.54 558,293.75 560,298.09 561.5,302.73 563,305.09 565,314.44 567,320.66 569,335.76 571,349.96 573,359.01 575,365 577,362.62 579,361.15 580.5,364.2 582,365.06 584,366.89 586,368.82 587.5,368.72 589,367.31 590.5,366.58 592,367.74 594,364.63 596,363.92 598,360.79 600,356.76 602,356.42 604,356.04 606,355.29 608,354.19 610,355.62 612,357.24 613.67,358.55 615.33,358.35 617,358.86 619,366.44 620.75,366.48 622.5,367.6 624.25,369.96 626,370.04 627.6,370.5 629.2,369.82 630.8,371.03 632.4,371.76 634,371.04 635.6,372.43 637.2,372.66 638.8,371.72 640.4,373.05 642,372.93 644,376.36 645.67,374.71 647.33,374.41 649,373.48 650.62,371.29 652.25,370.62 653.88,371.1 655.5,370" fill="none" stroke="#4562BC" stroke-width="4.2" stroke-linejoin="round" stroke-linecap="round"/>
</g>
<rect x="430.1" y="283" width="226.1" height="101.5" fill="none" stroke="#555555" stroke-width="1.3"/>
<line x1="205.5" y1="417.3" x2="205.5" y2="519.1" stroke="#cfcfcf" stroke-width="0.9"/>
<line x1="88.9" y1="424.4" x2="92.1" y2="424.4" stroke="#6b6b6b" stroke-width="1"/>
<text x="88.5" y="427.95" font-size="10" fill="#6b6b6b" text-anchor="end" textLength="18.9" lengthAdjust="spacingAndGlyphs" stroke="#6b6b6b" stroke-width="0.2">1.05</text>
<line x1="88.9" y1="457.3" x2="92.1" y2="457.3" stroke="#6b6b6b" stroke-width="1"/>
<text x="88.5" y="460.85" font-size="10" fill="#6b6b6b" text-anchor="end" textLength="18.9" lengthAdjust="spacingAndGlyphs" stroke="#6b6b6b" stroke-width="0.2">0.90</text>
<line x1="88.9" y1="490.3" x2="92.1" y2="490.3" stroke="#6b6b6b" stroke-width="1"/>
<text x="88.5" y="493.85" font-size="10" fill="#6b6b6b" text-anchor="end" textLength="18.9" lengthAdjust="spacingAndGlyphs" stroke="#6b6b6b" stroke-width="0.2">0.75</text>
<line x1="148.9" y1="519.1" x2="148.9" y2="522.3" stroke="#6b6b6b" stroke-width="1"/>
<text x="148.9" y="530.2" font-size="10.2" fill="#6b6b6b" text-anchor="middle" textLength="26.6" lengthAdjust="spacingAndGlyphs" stroke="#6b6b6b" stroke-width="0.2">−500</text>
<line x1="205.5" y1="519.1" x2="205.5" y2="522.3" stroke="#6b6b6b" stroke-width="1"/>
<text x="205.5" y="530.2" font-size="10.2" fill="#6b6b6b" text-anchor="middle" stroke="#6b6b6b" stroke-width="0.2">0</text>
<line x1="262.1" y1="519.1" x2="262.1" y2="522.3" stroke="#6b6b6b" stroke-width="1"/>
<text x="262.1" y="530.2" font-size="10.2" fill="#6b6b6b" text-anchor="middle" textLength="19" lengthAdjust="spacingAndGlyphs" stroke="#6b6b6b" stroke-width="0.2">500</text>
<text x="0" y="0" font-size="12" fill="#1a1a1a" text-anchor="middle" textLength="44.2" lengthAdjust="spacingAndGlyphs" transform="translate(48.6,476.4) rotate(-90)">Average</text>
<text x="0" y="0" font-size="12" fill="#1a1a1a" text-anchor="middle" textLength="105" lengthAdjust="spacingAndGlyphs" transform="translate(62.6,474.5) rotate(-90)">Nucleosome Signal</text>
<text x="95" y="433" font-size="16.5" fill="#111" text-anchor="start" textLength="24.2" lengthAdjust="spacingAndGlyphs">ID2</text>
<text x="132.5" y="542.3" font-size="12" fill="#1a1a1a" text-anchor="start" textLength="147.7" lengthAdjust="spacingAndGlyphs">Somatic Mutations Location</text>
<clipPath id="cp3"><rect x="92.1" y="417.3" width="226.1" height="101.8"/></clipPath><g clip-path="url(#cp3)">
<path d="M92.6,442.9 C95.13,443.1 102.3,443.8 107.8,444.1 C113.3,444.4 120.87,444.98 125.6,444.7 C130.33,444.42 133.25,442.55 136.2,442.4 C139.15,442.25 140.93,443.13 143.3,443.8 C145.67,444.47 148.62,446.47 150.4,446.4 C152.18,446.33 152.22,443.4 154,443.4 C155.78,443.4 159.03,446.18 161.1,446.4 C163.17,446.62 164.92,444.55 166.4,444.7 C167.88,444.85 168.37,447.82 170,447.3 C171.63,446.78 174.42,441.75 176.2,441.6 C177.98,441.45 179.37,444.7 180.7,446.4 C182.03,448.1 182.72,451.5 184.2,451.8 C185.68,452.1 187.82,447.47 189.6,448.2 C191.38,448.93 193.72,452.78 194.9,456.2 C196.08,459.62 196.12,464.85 196.7,468.7 C197.28,472.55 197.52,477.08 198.4,479.3 C199.28,481.52 200.82,480.88 202,482 C203.18,483.12 204.2,486.15 205.5,486 C206.8,485.85 208.5,485.17 209.8,481.1 C211.1,477.03 212.12,466.63 213.3,461.6 C214.48,456.57 215.42,453.13 216.9,450.9 C218.38,448.67 220.57,448.05 222.2,448.2 C223.83,448.35 225.22,452.68 226.7,451.8 C228.18,450.92 229.62,443.93 231.1,442.9 C232.58,441.87 233.97,445.02 235.6,445.6 C237.23,446.18 239.17,446.5 240.9,446.4 C242.63,446.3 244.22,445.73 246,445 C247.78,444.27 249.78,441.9 251.6,442 C253.42,442.1 254.53,445.45 256.9,445.6 C259.27,445.75 262.83,443.5 265.8,442.9 C268.77,442.3 271.73,441.7 274.7,442 C277.67,442.3 279.45,444.55 283.6,444.7 C287.75,444.85 293.93,443.2 299.6,442.9 C305.27,442.6 314.6,442.9 317.6,442.9" fill="none" stroke="#888888" stroke-width="4.0" stroke-linejoin="round" stroke-linecap="round" stroke-dasharray="12.4 5.5" stroke-linecap="butt"/>
<path d="M92.6,449.1 C93.95,449.4 98.17,450.37 100.7,450.9 C103.23,451.43 105.73,452.45 107.8,452.3 C109.87,452.15 110.73,450.3 113.1,450 C115.47,449.7 119.03,450.2 122,450.5 C124.97,450.8 128.83,452.03 130.9,451.8 C132.97,451.57 132.03,449.48 134.4,449.1 C136.77,448.72 142.13,448.85 145.1,449.5 C148.07,450.15 150.27,453 152.2,453 C154.13,453 155.22,449.7 156.7,449.5 C158.18,449.3 159.48,451.63 161.1,451.8 C162.72,451.97 164.62,450.2 166.4,450.5 C168.18,450.8 170.02,454.13 171.8,453.6 C173.58,453.07 175.62,447.6 177.1,447.3 C178.58,447 179.52,450.17 180.7,451.8 C181.88,453.43 183.02,456.8 184.2,457.1 C185.38,457.4 186.62,454.05 187.8,453.6 C188.98,453.15 190.12,453.22 191.3,454.4 C192.48,455.58 194,458.32 194.9,460.7 C195.8,463.08 196.25,465.3 196.7,468.7 C197.15,472.1 197.32,477.85 197.6,481.1 C197.88,484.35 197.67,487.02 198.4,488.2 C199.13,489.38 201.13,488.05 202,488.2 C202.87,488.35 202.98,488.07 203.6,489.1 C204.22,490.13 204.97,494.4 205.7,494.4 C206.43,494.4 206.88,489.98 208,489.1 C209.12,488.22 211.37,491.02 212.4,489.1 C213.43,487.18 213.6,482.18 214.2,477.6 C214.8,473.02 215.1,465.32 216,461.6 C216.9,457.88 218.57,456.63 219.6,455.3 C220.63,453.97 220.87,453.22 222.2,453.6 C223.53,453.98 226.27,457.75 227.6,457.6 C228.93,457.45 229.32,454.27 230.2,452.7 C231.08,451.13 231.72,448.05 232.9,448.2 C234.08,448.35 235.67,453.15 237.3,453.6 C238.93,454.05 241.07,451.05 242.7,450.9 C244.33,450.75 245.48,453 247.1,452.7 C248.72,452.4 250.47,449.1 252.4,449.1 C254.33,449.1 256.47,452.55 258.7,452.7 C260.93,452.85 263.13,450.65 265.8,450 C268.47,449.35 272.03,448.5 274.7,448.8 C277.37,449.1 279.43,451.52 281.8,451.8 C284.17,452.08 284.75,450.8 288.9,450.5 C293.05,450.2 301.92,450.17 306.7,450 C311.48,449.83 315.78,449.58 317.6,449.5" fill="none" stroke="#1C6A30" stroke-width="3.8" stroke-linejoin="round" stroke-linecap="round"/>
</g>
<rect x="92.1" y="417.3" width="226.1" height="101.8" fill="none" stroke="#555555" stroke-width="1.3"/>
<line x1="543.1" y1="417.4" x2="543.1" y2="519.2" stroke="#cfcfcf" stroke-width="0.9"/>
<line x1="426.9" y1="442.4" x2="430.1" y2="442.4" stroke="#6b6b6b" stroke-width="1"/>
<text x="426.5" y="445.95" font-size="10" fill="#6b6b6b" text-anchor="end" textLength="16.4" lengthAdjust="spacingAndGlyphs" stroke="#6b6b6b" stroke-width="0.2">124</text>
<line x1="426.9" y1="478.6" x2="430.1" y2="478.6" stroke="#6b6b6b" stroke-width="1"/>
<text x="426.5" y="482.15" font-size="10" fill="#6b6b6b" text-anchor="end" textLength="16.4" lengthAdjust="spacingAndGlyphs" stroke="#6b6b6b" stroke-width="0.2">120</text>
<line x1="426.9" y1="514.7" x2="430.1" y2="514.7" stroke="#6b6b6b" stroke-width="1"/>
<text x="426.5" y="518.25" font-size="10" fill="#6b6b6b" text-anchor="end" textLength="16.4" lengthAdjust="spacingAndGlyphs" stroke="#6b6b6b" stroke-width="0.2">116</text>
<line x1="486.2" y1="519.2" x2="486.2" y2="522.4" stroke="#6b6b6b" stroke-width="1"/>
<text x="486.2" y="530.2" font-size="10.2" fill="#6b6b6b" text-anchor="middle" textLength="26.6" lengthAdjust="spacingAndGlyphs" stroke="#6b6b6b" stroke-width="0.2">−500</text>
<line x1="543.1" y1="519.2" x2="543.1" y2="522.4" stroke="#6b6b6b" stroke-width="1"/>
<text x="543.1" y="530.2" font-size="10.2" fill="#6b6b6b" text-anchor="middle" stroke="#6b6b6b" stroke-width="0.2">0</text>
<line x1="600" y1="519.2" x2="600" y2="522.4" stroke="#6b6b6b" stroke-width="1"/>
<text x="600" y="530.2" font-size="10.2" fill="#6b6b6b" text-anchor="middle" textLength="19" lengthAdjust="spacingAndGlyphs" stroke="#6b6b6b" stroke-width="0.2">500</text>
<text x="0" y="0" font-size="12" fill="#1a1a1a" text-anchor="middle" textLength="44.2" lengthAdjust="spacingAndGlyphs" transform="translate(385.9,476.2) rotate(-90)">Average</text>
<text x="0" y="0" font-size="12" fill="#1a1a1a" text-anchor="middle" textLength="69" lengthAdjust="spacingAndGlyphs" transform="translate(399.7,474.4) rotate(-90)">CTCF Signal</text>
<text x="432.8" y="433" font-size="16.5" fill="#111" text-anchor="start" textLength="24.2" lengthAdjust="spacingAndGlyphs">ID2</text>
<text x="467.6" y="542.7" font-size="12" fill="#1a1a1a" text-anchor="start" textLength="147.6" lengthAdjust="spacingAndGlyphs">Somatic Mutations Location</text>
<clipPath id="cp4"><rect x="430.1" y="417.4" width="226.1" height="101.8"/></clipPath><g clip-path="url(#cp4)">
<path d="M430.6,465.9 C432.05,465.42 436.57,463.8 439.3,463 C442.03,462.2 444.43,461.9 447,461.1 C449.57,460.3 452.13,458.3 454.7,458.2 C457.27,458.1 459.83,460.35 462.4,460.5 C464.97,460.65 467.53,459.65 470.1,459.1 C472.67,458.55 475.07,457.68 477.8,457.2 C480.53,456.72 483.93,456.03 486.5,456.2 C489.07,456.37 490.8,457.23 493.2,458.2 C495.6,459.17 498.33,460.57 500.9,462 C503.47,463.43 506.03,465.18 508.6,466.8 C511.17,468.42 514.05,469.93 516.3,471.7 C518.55,473.47 520.17,474.83 522.1,477.4 C524.03,479.97 525.97,483.57 527.9,487.1 C529.83,490.63 531.77,494.92 533.7,498.6 C535.63,502.28 537.9,507.27 539.5,509.2 C541.1,511.13 542.25,510.83 543.3,510.2 C544.35,509.57 544.42,507.97 545.8,505.4 C547.18,502.83 550,498.02 551.6,494.8 C553.2,491.58 554.12,489.15 555.4,486.1 C556.68,483.05 557.7,479.23 559.3,476.5 C560.9,473.77 562.75,471.63 565,469.7 C567.25,467.77 570.22,466.67 572.8,464.9 C575.38,463.13 577.93,460.87 580.5,459.1 C583.07,457.33 585.32,455.58 588.2,454.3 C591.08,453.02 594.6,451.98 597.8,451.4 C601,450.82 604.18,450.9 607.4,450.8 C610.62,450.7 613.88,450.05 617.1,450.8 C620.32,451.55 623.5,454.23 626.7,455.3 C629.9,456.37 633.08,456.57 636.3,457.2 C639.52,457.83 642.78,458.13 646,459.1 C649.22,460.07 654,462.35 655.6,463" fill="none" stroke="#8FD47C" stroke-width="8.6" stroke-linejoin="round" stroke-linecap="round"/>
<path d="M430.6,465.9 C432.05,465.42 436.57,463.8 439.3,463 C442.03,462.2 444.43,461.9 447,461.1 C449.57,460.3 452.13,458.3 454.7,458.2 C457.27,458.1 459.83,460.35 462.4,460.5 C464.97,460.65 467.53,459.65 470.1,459.1 C472.67,458.55 475.07,457.68 477.8,457.2 C480.53,456.72 483.93,456.03 486.5,456.2 C489.07,456.37 490.8,457.23 493.2,458.2 C495.6,459.17 498.33,460.57 500.9,462 C503.47,463.43 506.03,465.18 508.6,466.8 C511.17,468.42 514.05,469.93 516.3,471.7 C518.55,473.47 520.17,474.83 522.1,477.4 C524.03,479.97 525.97,483.57 527.9,487.1 C529.83,490.63 531.77,494.92 533.7,498.6 C535.63,502.28 537.9,507.27 539.5,509.2 C541.1,511.13 542.25,510.83 543.3,510.2 C544.35,509.57 544.42,507.97 545.8,505.4 C547.18,502.83 550,498.02 551.6,494.8 C553.2,491.58 554.12,489.15 555.4,486.1 C556.68,483.05 557.7,479.23 559.3,476.5 C560.9,473.77 562.75,471.63 565,469.7 C567.25,467.77 570.22,466.67 572.8,464.9 C575.38,463.13 577.93,460.87 580.5,459.1 C583.07,457.33 585.32,455.58 588.2,454.3 C591.08,453.02 594.6,451.98 597.8,451.4 C601,450.82 604.18,450.9 607.4,450.8 C610.62,450.7 613.88,450.05 617.1,450.8 C620.32,451.55 623.5,454.23 626.7,455.3 C629.9,456.37 633.08,456.57 636.3,457.2 C639.52,457.83 642.78,458.13 646,459.1 C649.22,460.07 654,462.35 655.6,463" fill="none" stroke="#888888" stroke-width="4.0" stroke-linejoin="round" stroke-linecap="round" stroke-dasharray="12.4 5.5" stroke-linecap="butt"/>
<polyline points="430.6,481.7 432.05,477.21 433.5,475.01 434.95,471.15 436.4,470.82 437.85,468.29 439.3,465.3 441.2,471.73 442.47,471.73 443.73,474.67 445,475.04 446.3,478.64 447.6,483.31 448.9,488.21 450.1,487.75 451.3,490.01 452.5,493.31 453.7,496.32 455,497.63 456.3,499.58 457.6,504.12 458.87,500.33 460.13,502.45 461.4,499.88 462.6,498.67 463.8,497.85 465,497.77 466.2,498.77 467.65,499.26 469.1,503.28 470.55,506.12 472,507.87 473.45,502.66 474.9,495.21 476.35,495.7 477.8,496.7 479.25,494.94 480.7,490.7 482.15,486.94 483.6,484.49 485.05,483.69 486.5,482.82 487.77,486.97 489.03,489.11 490.3,490.03 491.66,489.43 493.02,487.55 494.38,487.02 495.74,484.8 497.1,481.58 498.37,485.83 499.63,484.8 500.9,487.72 502.1,487.92 503.3,484.92 504.5,485.11 505.7,482.63 507.15,485.72 508.6,487 510.05,478.15 511.5,470.98 512.95,467.17 514.4,466.56 515.7,463.32 517,460.37 518.3,457.05 519.57,454.19 520.83,450.38 522.1,444.61 523.55,440.91 525,434.51 526.6,437.02 528.2,437.17 529.8,438.68 531.1,439.06 532.4,438.2 533.7,439.51 534.97,439.81 536.23,436.94 537.5,437.77 538.75,435.32 540,433.7 541.4,428.7 542.65,429.21 543.9,425.14 545.17,427.78 546.43,430.5 547.7,434.36 549,429.74 550.3,429.06 551.6,427.47 553.2,427 554.8,425.19 556.4,423.74 558.3,434.25 559.75,440.51 561.2,446.12 562.47,452.41 563.73,457.16 565,458.91 566.3,464.13 567.6,469.46 568.9,474.59 570.2,478.35 571.5,481.6 572.8,483.39 574.07,481.21 575.33,481.32 576.6,479.86 577.9,479.26 579.2,479.31 580.5,477.15 582.1,473.65 583.7,471.1 585.3,468.4 586.75,468.23 588.2,473.06 589.65,468.08 591.1,463.82 592.55,458.99 594,453.03 595.4,458.36 596.8,462.65 598.25,460.56 599.7,454.71 601,452.83 602.3,451.41 603.6,449.35 604.87,453.16 606.13,455.38 607.4,458.4 608.7,462.78 610,466.48 611.3,471.24 612.57,472.65 613.83,478.11 615.1,479.79 616.4,475.64 617.7,473.42 619,471.18 620.3,470.27 621.6,468.48 622.9,469.99 624.3,473.33 625.7,474.38 627,476.71 628.3,477.63 629.6,479.95 631.05,485.56 632.5,490.1 633.77,493.32 635.03,492.35 636.3,493.18 637.6,497.3 638.9,496.83 640.2,496.5 641.65,498.57 643.1,497.54 644.55,499.97 646,502.23 647.6,496.37 649.2,490.33 650.8,483.39 652,486.15 653.2,487.87 654.4,492.32 655.6,493.8" fill="none" stroke="#1C6A30" stroke-width="4.5" stroke-linejoin="round" stroke-linecap="round"/>
</g>
<rect x="430.1" y="417.4" width="226.1" height="101.8" fill="none" stroke="#555555" stroke-width="1.3"/>
<rect x="115.6" y="553.9" width="448.8" height="18.4" fill="#fff" stroke="#e6e6e6" stroke-width="0.9" rx="1"/>
<line x1="118.5" y1="562.6" x2="170.4" y2="562.6" stroke="#4562BC" stroke-width="1.6"/>
<text x="178" y="566.2" font-size="10" fill="#1a1a1a" text-anchor="start" textLength="82.2" lengthAdjust="spacingAndGlyphs">Real Substitutions</text>
<line x1="280.4" y1="562.6" x2="331.5" y2="562.6" stroke="#1C6A30" stroke-width="1.6"/>
<text x="338.5" y="566.2" font-size="10" fill="#1a1a1a" text-anchor="start" textLength="51.6" lengthAdjust="spacingAndGlyphs">Real Indels</text>
<line x1="410.7" y1="562.6" x2="460.4" y2="562.6" stroke="#888888" stroke-width="1.6" stroke-dasharray="6 2.8"/>
<text x="469.2" y="566.2" font-size="10" fill="#1a1a1a" text-anchor="start" textLength="92" lengthAdjust="spacingAndGlyphs">Simulated Mutations</text>
<rect x="231.3" y="644.4" width="28.5" height="28.6" fill="#7277c2" stroke="none" stroke-width="1"/>
<rect x="259.8" y="644.4" width="28.5" height="28.6" fill="#cacae8" stroke="none" stroke-width="1"/>
<rect x="288.3" y="644.4" width="28.5" height="28.6" fill="#7277c2" stroke="none" stroke-width="1"/>
<rect x="316.8" y="644.4" width="28.5" height="28.6" fill="#e1e1f2" stroke="none" stroke-width="1"/>
<rect x="345.3" y="644.4" width="28.5" height="28.6" fill="#505aae" stroke="none" stroke-width="1"/>
<rect x="373.8" y="644.4" width="28.5" height="28.6" fill="#ffffff" stroke="none" stroke-width="1"/>
<rect x="402.3" y="644.4" width="28.5" height="28.6" fill="#efeff8" stroke="none" stroke-width="1"/>
<rect x="430.8" y="644.4" width="28.5" height="28.6" fill="#fef6f6" stroke="none" stroke-width="1"/>
<rect x="231.3" y="673" width="28.5" height="28.6" fill="#ffffff" stroke="none" stroke-width="1"/>
<rect x="259.8" y="673" width="28.5" height="28.6" fill="#ffffff" stroke="none" stroke-width="1"/>
<rect x="288.3" y="673" width="28.5" height="28.6" fill="#fce5e5" stroke="none" stroke-width="1"/>
<rect x="316.8" y="673" width="28.5" height="28.6" fill="#f7f7fb" stroke="none" stroke-width="1"/>
<rect x="345.3" y="673" width="28.5" height="28.6" fill="#fad2d2" stroke="none" stroke-width="1"/>
<rect x="373.8" y="673" width="28.5" height="28.6" fill="#f7f7fb" stroke="none" stroke-width="1"/>
<rect x="402.3" y="673" width="28.5" height="28.6" fill="#ffffff" stroke="none" stroke-width="1"/>
<rect x="430.8" y="673" width="28.5" height="28.6" fill="#e8e8f5" stroke="none" stroke-width="1"/>
<rect x="231.3" y="701.6" width="28.5" height="28.6" fill="#8c1416" stroke="none" stroke-width="1"/>
<rect x="259.8" y="701.6" width="28.5" height="28.6" fill="#a09dd4" stroke="none" stroke-width="1"/>
<rect x="288.3" y="701.6" width="28.5" height="28.6" fill="#a09dd4" stroke="none" stroke-width="1"/>
<rect x="316.8" y="701.6" width="28.5" height="28.6" fill="#c0bee4" stroke="none" stroke-width="1"/>
<rect x="345.3" y="701.6" width="28.5" height="28.6" fill="#7277c2" stroke="none" stroke-width="1"/>
<rect x="373.8" y="701.6" width="28.5" height="28.6" fill="#ffffff" stroke="none" stroke-width="1"/>
<rect x="402.3" y="701.6" width="28.5" height="28.6" fill="#efeff8" stroke="none" stroke-width="1"/>
<rect x="430.8" y="701.6" width="28.5" height="28.6" fill="#e1e1f2" stroke="none" stroke-width="1"/>
<rect x="231.3" y="730.2" width="28.5" height="28.6" fill="#ffffff" stroke="none" stroke-width="1"/>
<rect x="259.8" y="730.2" width="28.5" height="28.6" fill="#ffffff" stroke="none" stroke-width="1"/>
<rect x="288.3" y="730.2" width="28.5" height="28.6" fill="#6267b9" stroke="none" stroke-width="1"/>
<rect x="316.8" y="730.2" width="28.5" height="28.6" fill="#dadaef" stroke="none" stroke-width="1"/>
<rect x="345.3" y="730.2" width="28.5" height="28.6" fill="#aba9db" stroke="none" stroke-width="1"/>
<rect x="373.8" y="730.2" width="28.5" height="28.6" fill="#ffffff" stroke="none" stroke-width="1"/>
<rect x="402.3" y="730.2" width="28.5" height="28.6" fill="#f7f7fb" stroke="none" stroke-width="1"/>
<rect x="430.8" y="730.2" width="28.5" height="28.6" fill="#c0bee4" stroke="none" stroke-width="1"/>
<rect x="231.3" y="758.8" width="28.5" height="28.6" fill="#f8caca" stroke="none" stroke-width="1"/>
<rect x="259.8" y="758.8" width="28.5" height="28.6" fill="#fef6f6" stroke="none" stroke-width="1"/>
<rect x="288.3" y="758.8" width="28.5" height="28.6" fill="#f7f7fb" stroke="none" stroke-width="1"/>
<rect x="316.8" y="758.8" width="28.5" height="28.6" fill="#efeff8" stroke="none" stroke-width="1"/>
<rect x="345.3" y="758.8" width="28.5" height="28.6" fill="#fbdddd" stroke="none" stroke-width="1"/>
<rect x="373.8" y="758.8" width="28.5" height="28.6" fill="#fdeeee" stroke="none" stroke-width="1"/>
<rect x="402.3" y="758.8" width="28.5" height="28.6" fill="#ffffff" stroke="none" stroke-width="1"/>
<rect x="430.8" y="758.8" width="28.5" height="28.6" fill="#e1e1f2" stroke="none" stroke-width="1"/>
<line x1="231.3" y1="644.4" x2="459.3" y2="644.4" stroke="#333" stroke-width="1"/>
<line x1="231.3" y1="673" x2="459.3" y2="673" stroke="#333" stroke-width="1"/>
<line x1="231.3" y1="701.6" x2="459.3" y2="701.6" stroke="#333" stroke-width="1"/>
<line x1="231.3" y1="730.2" x2="459.3" y2="730.2" stroke="#333" stroke-width="1"/>
<line x1="231.3" y1="758.8" x2="459.3" y2="758.8" stroke="#333" stroke-width="1"/>
<line x1="231.3" y1="787.4" x2="459.3" y2="787.4" stroke="#333" stroke-width="1"/>
<line x1="231.3" y1="644.4" x2="231.3" y2="787.4" stroke="#333" stroke-width="1"/>
<line x1="259.8" y1="644.4" x2="259.8" y2="787.4" stroke="#333" stroke-width="1"/>
<line x1="288.3" y1="644.4" x2="288.3" y2="787.4" stroke="#333" stroke-width="1"/>
<line x1="316.8" y1="644.4" x2="316.8" y2="787.4" stroke="#333" stroke-width="1"/>
<line x1="345.3" y1="644.4" x2="345.3" y2="787.4" stroke="#333" stroke-width="1"/>
<line x1="373.8" y1="644.4" x2="373.8" y2="787.4" stroke="#333" stroke-width="1"/>
<line x1="402.3" y1="644.4" x2="402.3" y2="787.4" stroke="#333" stroke-width="1"/>
<line x1="430.8" y1="644.4" x2="430.8" y2="787.4" stroke="#333" stroke-width="1"/>
<line x1="459.3" y1="644.4" x2="459.3" y2="787.4" stroke="#333" stroke-width="1"/>
<text x="234.45" y="661.2" font-size="8.8" fill="#222" text-anchor="start" textLength="18.2" lengthAdjust="spacingAndGlyphs" stroke="#222" stroke-width="0.25">0.82</text>
<text x="252.95" y="660.9" font-size="9.5" fill="#222" text-anchor="start">*</text>
<text x="262.95" y="661.2" font-size="8.8" fill="#222" text-anchor="start" textLength="18.2" lengthAdjust="spacingAndGlyphs" stroke="#222" stroke-width="0.25">0.93</text>
<text x="281.45" y="660.9" font-size="9.5" fill="#222" text-anchor="start">*</text>
<text x="291.45" y="661.2" font-size="8.8" fill="#222" text-anchor="start" textLength="18.2" lengthAdjust="spacingAndGlyphs" stroke="#222" stroke-width="0.25">0.82</text>
<text x="309.95" y="660.9" font-size="9.5" fill="#222" text-anchor="start">*</text>
<text x="319.95" y="661.2" font-size="8.8" fill="#222" text-anchor="start" textLength="18.2" lengthAdjust="spacingAndGlyphs" stroke="#222" stroke-width="0.25">0.96</text>
<text x="338.45" y="660.9" font-size="9.5" fill="#222" text-anchor="start">*</text>
<text x="348.45" y="661.2" font-size="8.8" fill="#222" text-anchor="start" textLength="18.2" lengthAdjust="spacingAndGlyphs" stroke="#222" stroke-width="0.25">0.74</text>
<text x="366.95" y="660.9" font-size="9.5" fill="#222" text-anchor="start">*</text>
<text x="378.95" y="661.2" font-size="8.8" fill="#222" text-anchor="start" textLength="18.2" lengthAdjust="spacingAndGlyphs" stroke="#222" stroke-width="0.25">1.00</text>
<text x="405.45" y="661.2" font-size="8.8" fill="#222" text-anchor="start" textLength="18.2" lengthAdjust="spacingAndGlyphs" stroke="#222" stroke-width="0.25">0.98</text>
<text x="423.95" y="660.9" font-size="9.5" fill="#222" text-anchor="start">*</text>
<text x="433.95" y="661.2" font-size="8.8" fill="#222" text-anchor="start" textLength="18.2" lengthAdjust="spacingAndGlyphs" stroke="#222" stroke-width="0.25">1.01</text>
<text x="452.45" y="660.9" font-size="9.5" fill="#222" text-anchor="start">*</text>
<text x="236.45" y="689.8" font-size="8.8" fill="#222" text-anchor="start" textLength="18.2" lengthAdjust="spacingAndGlyphs" stroke="#222" stroke-width="0.25">1.00</text>
<text x="264.95" y="689.8" font-size="8.8" fill="#222" text-anchor="start" textLength="18.2" lengthAdjust="spacingAndGlyphs" stroke="#222" stroke-width="0.25">1.00</text>
<text x="291.45" y="689.8" font-size="8.8" fill="#222" text-anchor="start" textLength="18.2" lengthAdjust="spacingAndGlyphs" stroke="#222" stroke-width="0.25">1.03</text>
<text x="309.95" y="689.5" font-size="9.5" fill="#222" text-anchor="start">*</text>
<text x="319.95" y="689.8" font-size="8.8" fill="#222" text-anchor="start" textLength="18.2" lengthAdjust="spacingAndGlyphs" stroke="#222" stroke-width="0.25">0.99</text>
<text x="338.45" y="689.5" font-size="9.5" fill="#222" text-anchor="start">*</text>
<text x="348.45" y="689.8" font-size="8.8" fill="#222" text-anchor="start" textLength="18.2" lengthAdjust="spacingAndGlyphs" stroke="#222" stroke-width="0.25">1.06</text>
<text x="366.95" y="689.5" font-size="9.5" fill="#222" text-anchor="start">*</text>
<text x="378.95" y="689.8" font-size="8.8" fill="#222" text-anchor="start" textLength="18.2" lengthAdjust="spacingAndGlyphs" stroke="#222" stroke-width="0.25">0.99</text>
<text x="407.45" y="689.8" font-size="8.8" fill="#222" text-anchor="start" textLength="18.2" lengthAdjust="spacingAndGlyphs" stroke="#222" stroke-width="0.25">1.00</text>
<text x="433.95" y="689.8" font-size="8.8" fill="#222" text-anchor="start" textLength="18.2" lengthAdjust="spacingAndGlyphs" stroke="#222" stroke-width="0.25">0.97</text>
<text x="452.45" y="689.5" font-size="9.5" fill="#222" text-anchor="start">*</text>
<text x="234.45" y="718.4" font-size="8.8" fill="#ffffff" text-anchor="start" textLength="18.2" lengthAdjust="spacingAndGlyphs" stroke="#ffffff" stroke-width="0.25">1.74</text>
<text x="252.95" y="718.1" font-size="9.5" fill="#ffffff" text-anchor="start">*</text>
<text x="262.95" y="718.4" font-size="8.8" fill="#222" text-anchor="start" textLength="18.2" lengthAdjust="spacingAndGlyphs" stroke="#222" stroke-width="0.25">0.86</text>
<text x="281.45" y="718.1" font-size="9.5" fill="#222" text-anchor="start">*</text>
<text x="291.45" y="718.4" font-size="8.8" fill="#222" text-anchor="start" textLength="18.2" lengthAdjust="spacingAndGlyphs" stroke="#222" stroke-width="0.25">0.86</text>
<text x="309.95" y="718.1" font-size="9.5" fill="#222" text-anchor="start">*</text>
<text x="319.95" y="718.4" font-size="8.8" fill="#222" text-anchor="start" textLength="18.2" lengthAdjust="spacingAndGlyphs" stroke="#222" stroke-width="0.25">0.91</text>
<text x="338.45" y="718.1" font-size="9.5" fill="#222" text-anchor="start">*</text>
<text x="348.45" y="718.4" font-size="8.8" fill="#222" text-anchor="start" textLength="18.2" lengthAdjust="spacingAndGlyphs" stroke="#222" stroke-width="0.25">0.82</text>
<text x="366.95" y="718.1" font-size="9.5" fill="#222" text-anchor="start">*</text>
<text x="407.45" y="718.4" font-size="8.8" fill="#222" text-anchor="start" textLength="18.2" lengthAdjust="spacingAndGlyphs" stroke="#222" stroke-width="0.25">0.98</text>
<text x="433.95" y="718.4" font-size="8.8" fill="#222" text-anchor="start" textLength="18.2" lengthAdjust="spacingAndGlyphs" stroke="#222" stroke-width="0.25">0.96</text>
<text x="452.45" y="718.1" font-size="9.5" fill="#222" text-anchor="start">*</text>
<text x="264.95" y="747" font-size="8.8" fill="#222" text-anchor="start" textLength="18.2" lengthAdjust="spacingAndGlyphs" stroke="#222" stroke-width="0.25">1.00</text>
<text x="291.45" y="747" font-size="8.8" fill="#222" text-anchor="start" textLength="18.2" lengthAdjust="spacingAndGlyphs" stroke="#222" stroke-width="0.25">0.80</text>
<text x="309.95" y="746.7" font-size="9.5" fill="#222" text-anchor="start">*</text>
<text x="321.95" y="747" font-size="8.8" fill="#222" text-anchor="start" textLength="18.2" lengthAdjust="spacingAndGlyphs" stroke="#222" stroke-width="0.25">0.95</text>
<text x="348.45" y="747" font-size="8.8" fill="#222" text-anchor="start" textLength="18.2" lengthAdjust="spacingAndGlyphs" stroke="#222" stroke-width="0.25">0.88</text>
<text x="366.95" y="746.7" font-size="9.5" fill="#222" text-anchor="start">*</text>
<text x="407.45" y="747" font-size="8.8" fill="#222" text-anchor="start" textLength="18.2" lengthAdjust="spacingAndGlyphs" stroke="#222" stroke-width="0.25">0.99</text>
<text x="433.95" y="747" font-size="8.8" fill="#222" text-anchor="start" textLength="18.2" lengthAdjust="spacingAndGlyphs" stroke="#222" stroke-width="0.25">0.91</text>
<text x="452.45" y="746.7" font-size="9.5" fill="#222" text-anchor="start">*</text>
<text x="234.45" y="775.6" font-size="8.8" fill="#222" text-anchor="start" textLength="18.2" lengthAdjust="spacingAndGlyphs" stroke="#222" stroke-width="0.25">1.07</text>
<text x="252.95" y="775.3" font-size="9.5" fill="#222" text-anchor="start">*</text>
<text x="262.95" y="775.6" font-size="8.8" fill="#222" text-anchor="start" textLength="18.2" lengthAdjust="spacingAndGlyphs" stroke="#222" stroke-width="0.25">1.01</text>
<text x="281.45" y="775.3" font-size="9.5" fill="#222" text-anchor="start">*</text>
<text x="293.45" y="775.6" font-size="8.8" fill="#222" text-anchor="start" textLength="18.2" lengthAdjust="spacingAndGlyphs" stroke="#222" stroke-width="0.25">0.99</text>
<text x="319.95" y="775.6" font-size="8.8" fill="#222" text-anchor="start" textLength="18.2" lengthAdjust="spacingAndGlyphs" stroke="#222" stroke-width="0.25">0.98</text>
<text x="338.45" y="775.3" font-size="9.5" fill="#222" text-anchor="start">*</text>
<text x="348.45" y="775.6" font-size="8.8" fill="#222" text-anchor="start" textLength="18.2" lengthAdjust="spacingAndGlyphs" stroke="#222" stroke-width="0.25">1.04</text>
<text x="366.95" y="775.3" font-size="9.5" fill="#222" text-anchor="start">*</text>
<text x="378.95" y="775.6" font-size="8.8" fill="#222" text-anchor="start" textLength="18.2" lengthAdjust="spacingAndGlyphs" stroke="#222" stroke-width="0.25">1.02</text>
<text x="407.45" y="775.6" font-size="8.8" fill="#222" text-anchor="start" textLength="18.2" lengthAdjust="spacingAndGlyphs" stroke="#222" stroke-width="0.25">1.00</text>
<text x="433.95" y="775.6" font-size="8.8" fill="#222" text-anchor="start" textLength="18.2" lengthAdjust="spacingAndGlyphs" stroke="#222" stroke-width="0.25">0.96</text>
<text x="452.45" y="775.3" font-size="9.5" fill="#222" text-anchor="start">*</text>
<text x="195.8" y="664.6" font-size="14" fill="#111" text-anchor="start" textLength="33.6" lengthAdjust="spacingAndGlyphs">SBS1</text>
<text x="187.4" y="693.2" font-size="14" fill="#111" text-anchor="start" textLength="42" lengthAdjust="spacingAndGlyphs">SBS13</text>
<text x="179" y="721.8" font-size="14" fill="#111" text-anchor="start" textLength="50.4" lengthAdjust="spacingAndGlyphs">SBS17b</text>
<text x="193.9" y="750.4" font-size="14" fill="#111" text-anchor="start" textLength="35.5" lengthAdjust="spacingAndGlyphs">DBS2</text>
<text x="207.9" y="779" font-size="14" fill="#111" text-anchor="start" textLength="21.5" lengthAdjust="spacingAndGlyphs">ID2</text>
<text x="0" y="0" font-size="11.2" fill="#111" textLength="25.17" lengthAdjust="spacingAndGlyphs" transform="translate(244.15,642) rotate(-45)">CTCF</text>
<text x="0" y="0" font-size="11.2" fill="#111" textLength="47.82" lengthAdjust="spacingAndGlyphs" transform="translate(272.65,642) rotate(-45)">H3K4me1</text>
<text x="0" y="0" font-size="11.2" fill="#111" textLength="47.82" lengthAdjust="spacingAndGlyphs" transform="translate(301.15,642) rotate(-45)">H3K4me3</text>
<text x="0" y="0" font-size="11.2" fill="#111" textLength="47.82" lengthAdjust="spacingAndGlyphs" transform="translate(329.65,642) rotate(-45)">H3K9me3</text>
<text x="0" y="0" font-size="11.2" fill="#111" textLength="43.67" lengthAdjust="spacingAndGlyphs" transform="translate(358.15,642) rotate(-45)">H3K27ac</text>
<text x="0" y="0" font-size="11.2" fill="#111" textLength="54.02" lengthAdjust="spacingAndGlyphs" transform="translate(386.65,642) rotate(-45)">H3K27me3</text>
<text x="0" y="0" font-size="11.2" fill="#111" textLength="54.02" lengthAdjust="spacingAndGlyphs" transform="translate(415.15,642) rotate(-45)">H3K36me3</text>
<text x="0" y="0" font-size="11.2" fill="#111" textLength="60.09" lengthAdjust="spacingAndGlyphs" transform="translate(443.65,642) rotate(-45)">Nucleosome</text>
<defs><linearGradient id="cb" x1="0" y1="0" x2="0" y2="1"><stop offset="0" stop-color="#6e1418"/><stop offset="0.25" stop-color="#e4232b"/><stop offset="0.5" stop-color="#ffffff"/><stop offset="0.75" stop-color="#3a55b0"/><stop offset="1" stop-color="#1c1c5e"/></linearGradient></defs>
<rect x="476.3" y="665.4" width="6.2" height="97.7" fill="url(#cb)" stroke="none" stroke-width="1"/>
<text x="484.3" y="669.3" font-size="8.8" fill="#222" text-anchor="start" textLength="19.9" lengthAdjust="spacingAndGlyphs">1.75</text>
<text x="484.3" y="718.6" font-size="8.8" fill="#222" text-anchor="start" textLength="19.9" lengthAdjust="spacingAndGlyphs">1.00</text>
<text x="484.3" y="766.9" font-size="8.8" fill="#222" text-anchor="start" textLength="19.9" lengthAdjust="spacingAndGlyphs">0.25</text>
<text x="0" y="0" font-size="11" fill="#1a1a1a" text-anchor="middle" textLength="63.4" lengthAdjust="spacingAndGlyphs" transform="translate(517.7,714.7) rotate(-90)">Fold Change</text>
<text x="0" y="0" font-size="11" fill="#1a1a1a" text-anchor="middle" textLength="76.5" lengthAdjust="spacingAndGlyphs" transform="translate(529.8,713.3) rotate(-90)">Real/Simulated</text>
<text x="309.2" y="800.7" font-size="10" fill="#1a1a1a" text-anchor="start" textLength="70.6" lengthAdjust="spacingAndGlyphs">* q-value ≤ 0.05</text>
</svg>
</body></html>
